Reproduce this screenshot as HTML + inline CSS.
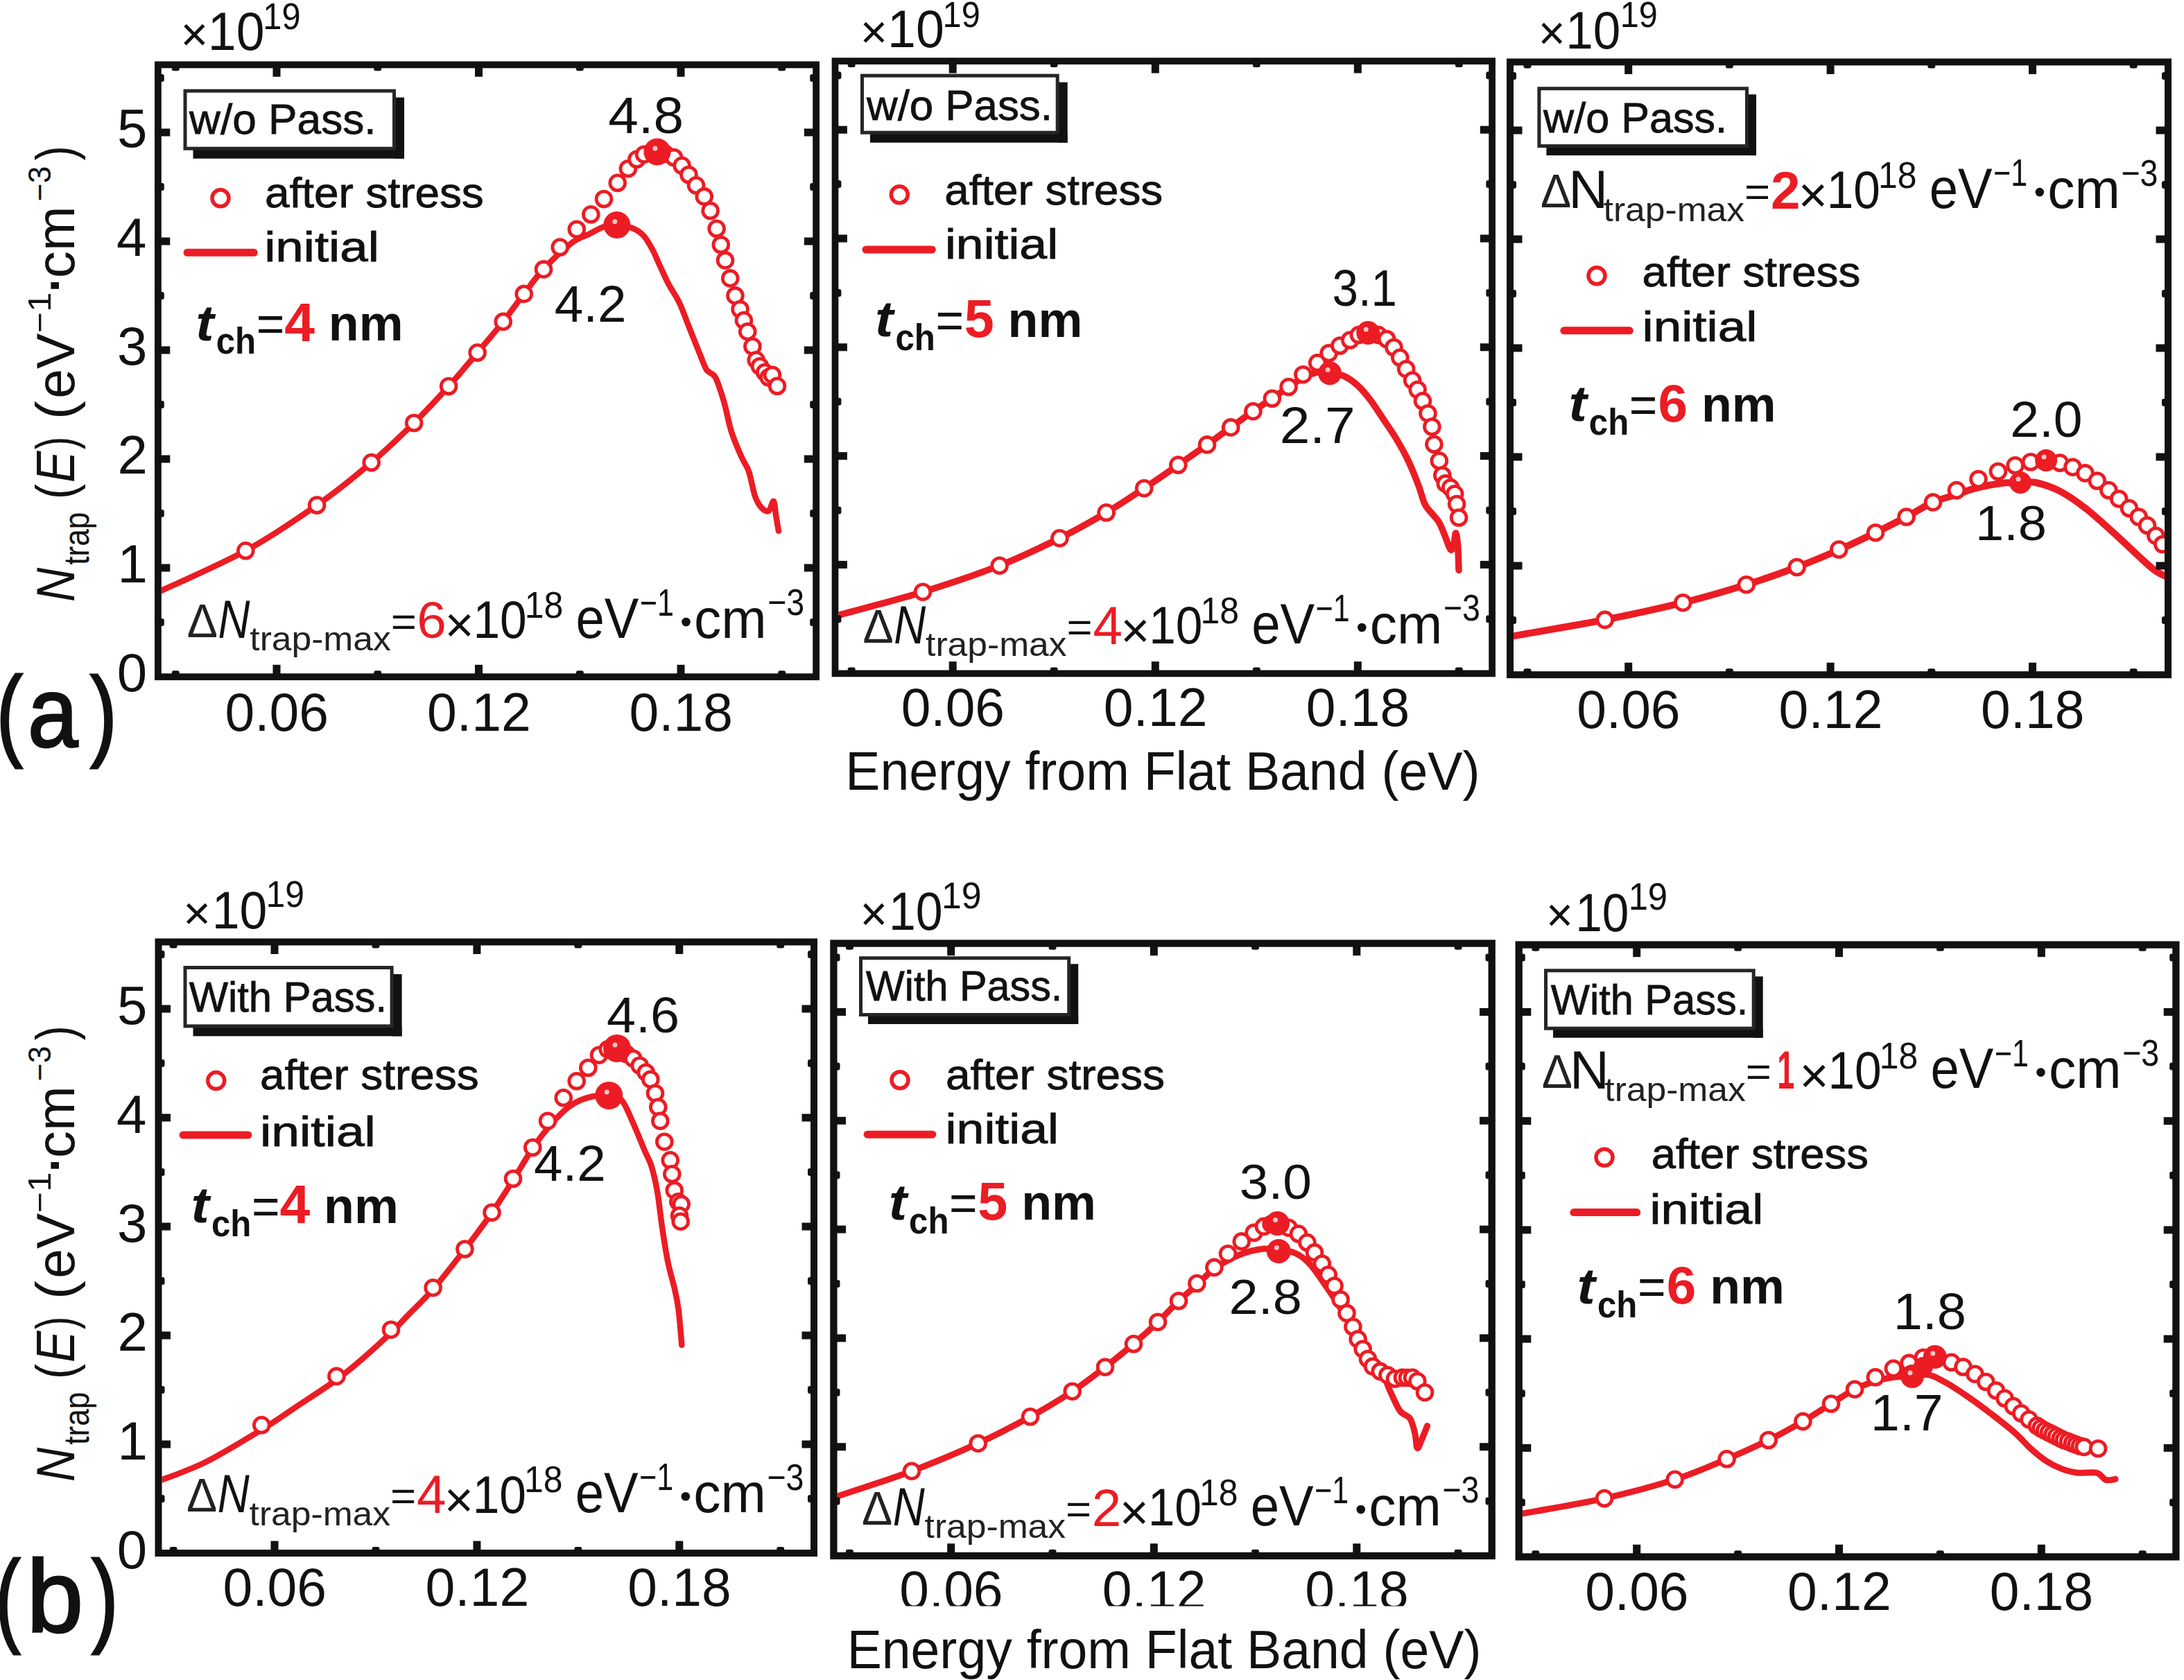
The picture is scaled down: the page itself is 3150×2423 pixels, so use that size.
<!DOCTYPE html>
<html><head><meta charset="utf-8"><style>
html,body{margin:0;padding:0;background:#fff;}
svg{display:block;}
text{font-family:"Liberation Sans",sans-serif;font-kerning:none;font-variant-ligatures:none;white-space:pre;}
</style></head><body>
<svg width="3150" height="2423" viewBox="0 0 3150 2423">
<rect width="3150" height="2423" fill="#fff"/>
<defs>
<clipPath id="clip_p1"><rect x="232.8" y="98.2" width="939.5" height="873.0"/></clipPath>
<clipPath id="clip_p2"><rect x="1209.4" y="93.0" width="937.9" height="873.6"/></clipPath>
<clipPath id="clip_p3"><rect x="2183.0" y="94.4" width="939.0" height="873.8"/></clipPath>
<clipPath id="clip_b1"><rect x="233.5" y="1363.5" width="935.5" height="871.5"/></clipPath>
<clipPath id="clip_b2"><rect x="1207.5" y="1365.7" width="939.0" height="873.0"/></clipPath>
<clipPath id="clip_b3"><rect x="2195.8" y="1367.7" width="937.4" height="872.5"/></clipPath>
</defs>
<g clip-path="url(#clip_p1)">
<path d="M226.0,855.0 C247.4,844.9 315.8,815.4 354.3,794.3 C392.8,773.2 426.9,749.8 457.1,728.6 C487.3,707.4 512.4,686.9 535.7,667.1 C559.0,647.3 578.5,628.3 597.1,610.0 C615.7,591.7 631.9,574.0 647.1,557.1 C662.4,540.2 675.5,524.1 688.6,508.6 C701.7,493.1 714.5,478.0 725.7,463.9 C736.9,449.8 746.0,436.5 755.7,423.9 C765.4,411.2 772.5,400.2 784.0,388.0 C795.5,375.8 813.6,358.8 824.6,350.4 C835.6,342.0 842.3,341.4 850.0,337.5 C857.7,333.6 864.4,329.2 871.0,327.0 C877.6,324.8 883.0,324.2 889.8,324.5 C896.6,324.8 905.6,326.5 912.0,329.0 C918.4,331.5 923.2,334.6 928.0,339.6 C932.8,344.7 936.8,352.2 940.7,359.3 C944.6,366.4 947.5,374.2 951.4,382.5 C955.3,390.8 959.2,400.2 964.0,409.3 C968.8,418.4 975.0,426.4 980.0,437.0 C985.0,447.6 989.5,461.0 994.3,472.9 C999.1,484.8 1004.4,498.5 1008.6,508.6 C1012.8,518.7 1015.4,527.7 1019.3,533.6 C1023.2,539.5 1027.6,536.6 1031.8,544.3 C1036.0,552.0 1040.4,566.9 1044.3,580.0 C1048.2,593.1 1050.8,609.8 1055.0,622.9 C1059.2,636.0 1065.1,649.1 1069.3,658.6 C1073.5,668.1 1076.7,670.5 1080.0,680.0 C1083.3,689.5 1086.0,707.1 1089.0,715.7 C1092.0,724.3 1094.6,728.2 1097.9,731.8 C1101.2,735.3 1105.6,738.5 1108.6,737.0 C1111.6,735.5 1113.9,721.7 1115.7,722.9 C1117.5,724.1 1118.1,737.2 1119.3,744.3 C1120.5,751.4 1122.3,762.1 1122.9,765.7" fill="none" stroke="#ec1c24" stroke-width="8.5" stroke-linejoin="round" stroke-linecap="round"/>
<circle cx="354.3" cy="794.3" r="10.9" fill="#fff" stroke="#ec1c24" stroke-width="4.8"/>
<circle cx="457.1" cy="728.6" r="10.9" fill="#fff" stroke="#ec1c24" stroke-width="4.8"/>
<circle cx="535.7" cy="667.1" r="10.9" fill="#fff" stroke="#ec1c24" stroke-width="4.8"/>
<circle cx="597.1" cy="610.0" r="10.9" fill="#fff" stroke="#ec1c24" stroke-width="4.8"/>
<circle cx="647.1" cy="557.1" r="10.9" fill="#fff" stroke="#ec1c24" stroke-width="4.8"/>
<circle cx="688.6" cy="508.6" r="10.9" fill="#fff" stroke="#ec1c24" stroke-width="4.8"/>
<circle cx="725.7" cy="463.9" r="10.9" fill="#fff" stroke="#ec1c24" stroke-width="4.8"/>
<circle cx="755.7" cy="423.9" r="10.9" fill="#fff" stroke="#ec1c24" stroke-width="4.8"/>
<circle cx="784.0" cy="388.4" r="10.9" fill="#fff" stroke="#ec1c24" stroke-width="4.8"/>
<circle cx="807.7" cy="356.6" r="10.9" fill="#fff" stroke="#ec1c24" stroke-width="4.8"/>
<circle cx="831.8" cy="330.7" r="10.9" fill="#fff" stroke="#ec1c24" stroke-width="4.8"/>
<circle cx="852.3" cy="309.3" r="10.9" fill="#fff" stroke="#ec1c24" stroke-width="4.8"/>
<circle cx="871.0" cy="287.0" r="10.9" fill="#fff" stroke="#ec1c24" stroke-width="4.8"/>
<circle cx="890.7" cy="263.8" r="10.9" fill="#fff" stroke="#ec1c24" stroke-width="4.8"/>
<circle cx="905.9" cy="243.2" r="10.9" fill="#fff" stroke="#ec1c24" stroke-width="4.8"/>
<circle cx="918.4" cy="229.8" r="10.9" fill="#fff" stroke="#ec1c24" stroke-width="4.8"/>
<circle cx="929.0" cy="222.7" r="10.9" fill="#fff" stroke="#ec1c24" stroke-width="4.8"/>
<circle cx="959.5" cy="221.8" r="10.9" fill="#fff" stroke="#ec1c24" stroke-width="4.8"/>
<circle cx="972.0" cy="227.0" r="10.9" fill="#fff" stroke="#ec1c24" stroke-width="4.8"/>
<circle cx="983.6" cy="238.8" r="10.9" fill="#fff" stroke="#ec1c24" stroke-width="4.8"/>
<circle cx="993.4" cy="252.0" r="10.9" fill="#fff" stroke="#ec1c24" stroke-width="4.8"/>
<circle cx="1004.0" cy="267.3" r="10.9" fill="#fff" stroke="#ec1c24" stroke-width="4.8"/>
<circle cx="1015.7" cy="283.4" r="10.9" fill="#fff" stroke="#ec1c24" stroke-width="4.8"/>
<circle cx="1024.6" cy="304.0" r="10.9" fill="#fff" stroke="#ec1c24" stroke-width="4.8"/>
<circle cx="1033.6" cy="329.8" r="10.9" fill="#fff" stroke="#ec1c24" stroke-width="4.8"/>
<circle cx="1039.8" cy="353.0" r="10.9" fill="#fff" stroke="#ec1c24" stroke-width="4.8"/>
<circle cx="1046.0" cy="375.4" r="10.9" fill="#fff" stroke="#ec1c24" stroke-width="4.8"/>
<circle cx="1053.2" cy="401.4" r="10.9" fill="#fff" stroke="#ec1c24" stroke-width="4.8"/>
<circle cx="1060.4" cy="426.4" r="10.9" fill="#fff" stroke="#ec1c24" stroke-width="4.8"/>
<circle cx="1067.5" cy="446.0" r="10.9" fill="#fff" stroke="#ec1c24" stroke-width="4.8"/>
<circle cx="1072.9" cy="462.1" r="10.9" fill="#fff" stroke="#ec1c24" stroke-width="4.8"/>
<circle cx="1078.2" cy="478.2" r="10.9" fill="#fff" stroke="#ec1c24" stroke-width="4.8"/>
<circle cx="1085.4" cy="499.6" r="10.9" fill="#fff" stroke="#ec1c24" stroke-width="4.8"/>
<circle cx="1090.7" cy="519.3" r="10.9" fill="#fff" stroke="#ec1c24" stroke-width="4.8"/>
<circle cx="1096.0" cy="528.2" r="10.9" fill="#fff" stroke="#ec1c24" stroke-width="4.8"/>
<circle cx="1103.2" cy="537.1" r="10.9" fill="#fff" stroke="#ec1c24" stroke-width="4.8"/>
<circle cx="1108.6" cy="544.3" r="10.9" fill="#fff" stroke="#ec1c24" stroke-width="4.8"/>
<circle cx="1113.9" cy="540.7" r="10.9" fill="#fff" stroke="#ec1c24" stroke-width="4.8"/>
<circle cx="1121.0" cy="556.8" r="10.9" fill="#fff" stroke="#ec1c24" stroke-width="4.8"/>
<circle cx="889.8" cy="324.5" r="19.5" fill="#ec1c24"/>
<circle cx="886.8" cy="319.5" r="3.5" fill="#f7c4c6"/>
<circle cx="947.9" cy="219.0" r="19.5" fill="#ec1c24"/>
<circle cx="944.9" cy="214.0" r="3.5" fill="#f7c4c6"/>
</g>
<g clip-path="url(#clip_p2)">
<path d="M1203.0,889.0 C1224.3,883.1 1291.2,865.9 1331.0,853.7 C1370.8,841.5 1408.8,828.6 1441.7,815.7 C1474.6,802.8 1502.8,788.9 1528.4,776.2 C1554.1,763.5 1575.3,751.3 1595.6,739.3 C1615.9,727.3 1632.9,715.7 1650.2,704.2 C1667.5,692.8 1684.2,681.1 1699.3,670.6 C1714.4,660.1 1728.3,650.4 1741.0,641.4 C1753.7,632.4 1764.1,624.4 1775.2,616.4 C1786.3,608.4 1797.5,600.1 1807.4,593.2 C1817.3,586.3 1826.3,580.6 1834.8,574.8 C1843.3,568.9 1851.2,563.1 1858.6,558.1 C1866.0,553.1 1872.5,548.6 1879.4,545.0 C1886.3,541.4 1893.8,537.8 1900.2,536.7 C1906.6,535.6 1911.5,537.2 1918.0,538.2 C1924.5,539.2 1932.0,539.4 1939.0,542.6 C1946.0,545.8 1953.4,551.5 1959.8,557.5 C1966.2,563.5 1971.6,570.4 1977.6,578.3 C1983.5,586.2 1989.5,596.1 1995.5,605.0 C2001.5,613.9 2007.3,622.0 2013.3,631.9 C2019.2,641.8 2025.8,653.2 2031.2,664.6 C2036.7,676.0 2042.0,690.0 2046.0,700.4 C2050.0,710.8 2052.0,720.7 2055.0,727.1 C2058.0,733.5 2060.4,734.5 2063.9,739.0 C2067.4,743.5 2072.3,747.9 2075.8,753.9 C2079.3,759.9 2082.1,768.3 2084.8,774.8 C2087.5,781.2 2090.2,790.6 2092.2,792.6 C2094.2,794.6 2095.5,790.7 2096.7,786.7 C2097.9,782.7 2098.6,768.8 2099.6,768.8 C2100.6,768.8 2101.9,777.8 2102.6,786.7 C2103.3,795.6 2103.8,816.5 2104.0,822.4" fill="none" stroke="#ec1c24" stroke-width="9.5" stroke-linejoin="round" stroke-linecap="round"/>
<circle cx="1331.0" cy="853.7" r="10.9" fill="#fff" stroke="#ec1c24" stroke-width="4.8"/>
<circle cx="1441.7" cy="815.7" r="10.9" fill="#fff" stroke="#ec1c24" stroke-width="4.8"/>
<circle cx="1528.4" cy="776.2" r="10.9" fill="#fff" stroke="#ec1c24" stroke-width="4.8"/>
<circle cx="1595.6" cy="739.3" r="10.9" fill="#fff" stroke="#ec1c24" stroke-width="4.8"/>
<circle cx="1650.2" cy="704.2" r="10.9" fill="#fff" stroke="#ec1c24" stroke-width="4.8"/>
<circle cx="1699.3" cy="670.6" r="10.9" fill="#fff" stroke="#ec1c24" stroke-width="4.8"/>
<circle cx="1741.0" cy="641.4" r="10.9" fill="#fff" stroke="#ec1c24" stroke-width="4.8"/>
<circle cx="1775.2" cy="616.4" r="10.9" fill="#fff" stroke="#ec1c24" stroke-width="4.8"/>
<circle cx="1807.4" cy="593.2" r="10.9" fill="#fff" stroke="#ec1c24" stroke-width="4.8"/>
<circle cx="1834.8" cy="574.8" r="10.9" fill="#fff" stroke="#ec1c24" stroke-width="4.8"/>
<circle cx="1858.6" cy="558.1" r="10.9" fill="#fff" stroke="#ec1c24" stroke-width="4.8"/>
<circle cx="1879.4" cy="540.2" r="10.9" fill="#fff" stroke="#ec1c24" stroke-width="4.8"/>
<circle cx="1900.2" cy="523.3" r="10.9" fill="#fff" stroke="#ec1c24" stroke-width="4.8"/>
<circle cx="1916.6" cy="509.3" r="10.9" fill="#fff" stroke="#ec1c24" stroke-width="4.8"/>
<circle cx="1932.4" cy="498.6" r="10.9" fill="#fff" stroke="#ec1c24" stroke-width="4.8"/>
<circle cx="1947.3" cy="490.5" r="10.9" fill="#fff" stroke="#ec1c24" stroke-width="4.8"/>
<circle cx="1959.8" cy="483.1" r="10.9" fill="#fff" stroke="#ec1c24" stroke-width="4.8"/>
<circle cx="1988.0" cy="483.1" r="10.9" fill="#fff" stroke="#ec1c24" stroke-width="4.8"/>
<circle cx="2000.0" cy="489.0" r="10.9" fill="#fff" stroke="#ec1c24" stroke-width="4.8"/>
<circle cx="2010.4" cy="501.0" r="10.9" fill="#fff" stroke="#ec1c24" stroke-width="4.8"/>
<circle cx="2019.3" cy="515.8" r="10.9" fill="#fff" stroke="#ec1c24" stroke-width="4.8"/>
<circle cx="2028.2" cy="532.2" r="10.9" fill="#fff" stroke="#ec1c24" stroke-width="4.8"/>
<circle cx="2037.1" cy="548.6" r="10.9" fill="#fff" stroke="#ec1c24" stroke-width="4.8"/>
<circle cx="2044.6" cy="562.0" r="10.9" fill="#fff" stroke="#ec1c24" stroke-width="4.8"/>
<circle cx="2052.0" cy="578.3" r="10.9" fill="#fff" stroke="#ec1c24" stroke-width="4.8"/>
<circle cx="2059.5" cy="596.2" r="10.9" fill="#fff" stroke="#ec1c24" stroke-width="4.8"/>
<circle cx="2065.4" cy="615.5" r="10.9" fill="#fff" stroke="#ec1c24" stroke-width="4.8"/>
<circle cx="2068.4" cy="640.8" r="10.9" fill="#fff" stroke="#ec1c24" stroke-width="4.8"/>
<circle cx="2075.8" cy="664.6" r="10.9" fill="#fff" stroke="#ec1c24" stroke-width="4.8"/>
<circle cx="2080.3" cy="685.5" r="10.9" fill="#fff" stroke="#ec1c24" stroke-width="4.8"/>
<circle cx="2084.8" cy="697.4" r="10.9" fill="#fff" stroke="#ec1c24" stroke-width="4.8"/>
<circle cx="2092.2" cy="703.3" r="10.9" fill="#fff" stroke="#ec1c24" stroke-width="4.8"/>
<circle cx="2098.2" cy="712.3" r="10.9" fill="#fff" stroke="#ec1c24" stroke-width="4.8"/>
<circle cx="2101.1" cy="727.1" r="10.9" fill="#fff" stroke="#ec1c24" stroke-width="4.8"/>
<circle cx="2104.1" cy="746.5" r="10.9" fill="#fff" stroke="#ec1c24" stroke-width="4.8"/>
<circle cx="1918.0" cy="538.2" r="17.0" fill="#ec1c24"/>
<circle cx="1915.0" cy="533.2" r="3.5" fill="#f7c4c6"/>
<circle cx="1973.2" cy="480.0" r="17.0" fill="#ec1c24"/>
<circle cx="1970.2" cy="475.0" r="3.5" fill="#f7c4c6"/>
</g>
<g clip-path="url(#clip_p3)">
<path d="M2176.0,918.5 C2199.1,914.4 2272.9,902.1 2314.8,893.9 C2356.7,885.7 2393.3,877.7 2427.3,869.2 C2461.3,860.8 2491.4,851.7 2518.8,843.2 C2546.2,834.7 2569.4,826.4 2591.7,818.0 C2613.9,809.6 2633.4,801.3 2652.3,793.0 C2671.2,784.7 2688.9,776.1 2705.1,768.2 C2721.3,760.3 2735.8,752.8 2749.6,745.5 C2763.4,738.2 2775.8,729.8 2788.0,724.4 C2800.2,719.0 2812.7,716.6 2822.6,713.3 C2832.5,710.0 2837.0,707.4 2847.3,704.7 C2857.6,702.0 2873.3,698.7 2884.4,697.2 C2895.5,695.8 2905.3,696.2 2914.0,696.0 C2922.7,695.8 2926.8,693.9 2936.3,696.0 C2945.8,698.1 2959.1,702.2 2971.0,708.4 C2982.9,714.6 2995.7,723.6 3008.0,733.1 C3020.3,742.6 3032.6,754.1 3045.0,765.2 C3057.4,776.3 3071.9,790.4 3082.2,799.9 C3092.5,809.4 3099.9,816.6 3107.0,822.0 C3114.1,827.4 3122.0,830.3 3125.0,832.0" fill="none" stroke="#ec1c24" stroke-width="10.0" stroke-linejoin="round" stroke-linecap="round"/>
<circle cx="2314.8" cy="893.9" r="10.9" fill="#fff" stroke="#ec1c24" stroke-width="4.8"/>
<circle cx="2427.3" cy="869.2" r="10.9" fill="#fff" stroke="#ec1c24" stroke-width="4.8"/>
<circle cx="2518.8" cy="843.2" r="10.9" fill="#fff" stroke="#ec1c24" stroke-width="4.8"/>
<circle cx="2591.7" cy="818.0" r="10.9" fill="#fff" stroke="#ec1c24" stroke-width="4.8"/>
<circle cx="2652.3" cy="792.5" r="10.9" fill="#fff" stroke="#ec1c24" stroke-width="4.8"/>
<circle cx="2705.1" cy="768.2" r="10.9" fill="#fff" stroke="#ec1c24" stroke-width="4.8"/>
<circle cx="2749.6" cy="745.5" r="10.9" fill="#fff" stroke="#ec1c24" stroke-width="4.8"/>
<circle cx="2788.0" cy="724.4" r="10.9" fill="#fff" stroke="#ec1c24" stroke-width="4.8"/>
<circle cx="2822.0" cy="707.1" r="10.9" fill="#fff" stroke="#ec1c24" stroke-width="4.8"/>
<circle cx="2853.5" cy="691.0" r="10.9" fill="#fff" stroke="#ec1c24" stroke-width="4.8"/>
<circle cx="2881.9" cy="680.0" r="10.9" fill="#fff" stroke="#ec1c24" stroke-width="4.8"/>
<circle cx="2906.6" cy="671.3" r="10.9" fill="#fff" stroke="#ec1c24" stroke-width="4.8"/>
<circle cx="2928.9" cy="666.3" r="10.9" fill="#fff" stroke="#ec1c24" stroke-width="4.8"/>
<circle cx="2971.0" cy="667.6" r="10.9" fill="#fff" stroke="#ec1c24" stroke-width="4.8"/>
<circle cx="2989.5" cy="673.7" r="10.9" fill="#fff" stroke="#ec1c24" stroke-width="4.8"/>
<circle cx="3007.5" cy="682.4" r="10.9" fill="#fff" stroke="#ec1c24" stroke-width="4.8"/>
<circle cx="3024.8" cy="693.5" r="10.9" fill="#fff" stroke="#ec1c24" stroke-width="4.8"/>
<circle cx="3041.4" cy="707.1" r="10.9" fill="#fff" stroke="#ec1c24" stroke-width="4.8"/>
<circle cx="3056.2" cy="719.5" r="10.9" fill="#fff" stroke="#ec1c24" stroke-width="4.8"/>
<circle cx="3071.0" cy="733.1" r="10.9" fill="#fff" stroke="#ec1c24" stroke-width="4.8"/>
<circle cx="3084.7" cy="745.5" r="10.9" fill="#fff" stroke="#ec1c24" stroke-width="4.8"/>
<circle cx="3097.0" cy="757.8" r="10.9" fill="#fff" stroke="#ec1c24" stroke-width="4.8"/>
<circle cx="3109.4" cy="772.7" r="10.9" fill="#fff" stroke="#ec1c24" stroke-width="4.8"/>
<circle cx="3119.3" cy="785.0" r="10.9" fill="#fff" stroke="#ec1c24" stroke-width="4.8"/>
<circle cx="2914.0" cy="696.0" r="16.0" fill="#ec1c24"/>
<circle cx="2911.0" cy="691.0" r="3.5" fill="#f7c4c6"/>
<circle cx="2951.1" cy="664.0" r="16.0" fill="#ec1c24"/>
<circle cx="2948.1" cy="659.0" r="3.5" fill="#f7c4c6"/>
</g>
<g clip-path="url(#clip_b1)">
<path d="M226.0,2137.0 C237.6,2132.4 270.3,2121.8 295.5,2109.3 C320.7,2096.8 355.5,2075.3 377.3,2062.0 C399.1,2048.7 408.5,2041.5 426.5,2029.5 C444.5,2017.5 469.0,2001.9 485.4,1990.0 C501.8,1978.1 511.6,1969.3 524.7,1958.0 C537.8,1946.7 553.1,1932.5 564.0,1922.0 C574.9,1911.5 580.1,1905.4 590.2,1895.0 C600.3,1884.6 611.2,1875.0 624.6,1859.5 C638.0,1844.0 656.2,1820.4 670.4,1802.0 C684.5,1783.6 697.9,1765.7 709.5,1749.0 C721.1,1732.3 730.2,1717.5 740.0,1702.0 C749.8,1686.5 759.4,1669.1 768.3,1656.0 C777.2,1642.9 784.7,1633.2 793.3,1623.3 C801.9,1613.4 811.1,1603.4 820.0,1596.7 C828.9,1590.0 837.0,1586.1 846.7,1583.3 C856.4,1580.5 870.0,1579.4 878.3,1580.0 C886.6,1580.6 890.9,1580.0 896.7,1586.7 C902.5,1593.4 907.8,1607.8 913.3,1620.0 C918.8,1632.2 925.5,1649.5 930.0,1660.0 C934.5,1670.5 937.0,1673.3 940.0,1683.3 C943.0,1693.3 945.8,1705.5 948.3,1720.0 C950.8,1734.5 952.5,1753.3 955.0,1770.0 C957.5,1786.7 960.2,1805.0 963.3,1820.0 C966.3,1835.0 970.8,1848.9 973.3,1860.0 C975.8,1871.1 976.9,1876.7 978.3,1886.7 C979.7,1896.7 980.9,1911.1 981.7,1920.0 C982.5,1928.9 983.0,1936.7 983.3,1940.0" fill="none" stroke="#ec1c24" stroke-width="8.5" stroke-linejoin="round" stroke-linecap="round"/>
<circle cx="377.3" cy="2055.3" r="10.9" fill="#fff" stroke="#ec1c24" stroke-width="4.8"/>
<circle cx="485.4" cy="1984.9" r="10.9" fill="#fff" stroke="#ec1c24" stroke-width="4.8"/>
<circle cx="564.0" cy="1917.7" r="10.9" fill="#fff" stroke="#ec1c24" stroke-width="4.8"/>
<circle cx="624.6" cy="1857.2" r="10.9" fill="#fff" stroke="#ec1c24" stroke-width="4.8"/>
<circle cx="670.4" cy="1801.5" r="10.9" fill="#fff" stroke="#ec1c24" stroke-width="4.8"/>
<circle cx="709.5" cy="1748.7" r="10.9" fill="#fff" stroke="#ec1c24" stroke-width="4.8"/>
<circle cx="740.0" cy="1700.0" r="10.9" fill="#fff" stroke="#ec1c24" stroke-width="4.8"/>
<circle cx="768.3" cy="1655.0" r="10.9" fill="#fff" stroke="#ec1c24" stroke-width="4.8"/>
<circle cx="790.0" cy="1616.7" r="10.9" fill="#fff" stroke="#ec1c24" stroke-width="4.8"/>
<circle cx="812.7" cy="1583.3" r="10.9" fill="#fff" stroke="#ec1c24" stroke-width="4.8"/>
<circle cx="831.7" cy="1559.3" r="10.9" fill="#fff" stroke="#ec1c24" stroke-width="4.8"/>
<circle cx="848.3" cy="1540.0" r="10.9" fill="#fff" stroke="#ec1c24" stroke-width="4.8"/>
<circle cx="864.0" cy="1521.7" r="10.9" fill="#fff" stroke="#ec1c24" stroke-width="4.8"/>
<circle cx="876.7" cy="1513.3" r="10.9" fill="#fff" stroke="#ec1c24" stroke-width="4.8"/>
<circle cx="903.3" cy="1520.0" r="10.9" fill="#fff" stroke="#ec1c24" stroke-width="4.8"/>
<circle cx="913.3" cy="1526.7" r="10.9" fill="#fff" stroke="#ec1c24" stroke-width="4.8"/>
<circle cx="922.7" cy="1536.7" r="10.9" fill="#fff" stroke="#ec1c24" stroke-width="4.8"/>
<circle cx="931.7" cy="1546.7" r="10.9" fill="#fff" stroke="#ec1c24" stroke-width="4.8"/>
<circle cx="938.3" cy="1556.7" r="10.9" fill="#fff" stroke="#ec1c24" stroke-width="4.8"/>
<circle cx="945.0" cy="1576.7" r="10.9" fill="#fff" stroke="#ec1c24" stroke-width="4.8"/>
<circle cx="949.3" cy="1596.7" r="10.9" fill="#fff" stroke="#ec1c24" stroke-width="4.8"/>
<circle cx="952.3" cy="1616.7" r="10.9" fill="#fff" stroke="#ec1c24" stroke-width="4.8"/>
<circle cx="958.3" cy="1646.7" r="10.9" fill="#fff" stroke="#ec1c24" stroke-width="4.8"/>
<circle cx="966.7" cy="1673.3" r="10.9" fill="#fff" stroke="#ec1c24" stroke-width="4.8"/>
<circle cx="969.3" cy="1693.3" r="10.9" fill="#fff" stroke="#ec1c24" stroke-width="4.8"/>
<circle cx="972.7" cy="1716.7" r="10.9" fill="#fff" stroke="#ec1c24" stroke-width="4.8"/>
<circle cx="978.3" cy="1733.3" r="10.9" fill="#fff" stroke="#ec1c24" stroke-width="4.8"/>
<circle cx="982.7" cy="1736.7" r="10.9" fill="#fff" stroke="#ec1c24" stroke-width="4.8"/>
<circle cx="980.0" cy="1753.3" r="10.9" fill="#fff" stroke="#ec1c24" stroke-width="4.8"/>
<circle cx="981.7" cy="1761.7" r="10.9" fill="#fff" stroke="#ec1c24" stroke-width="4.8"/>
<circle cx="878.3" cy="1580.0" r="20.0" fill="#ec1c24"/>
<circle cx="875.3" cy="1575.0" r="3.5" fill="#f7c4c6"/>
<circle cx="890.0" cy="1512.0" r="20.0" fill="#ec1c24"/>
<circle cx="887.0" cy="1507.0" r="3.5" fill="#f7c4c6"/>
</g>
<g clip-path="url(#clip_b2)">
<path d="M1202.0,2160.0 C1220.8,2153.6 1280.2,2134.8 1315.0,2121.7 C1349.8,2108.6 1382.2,2094.8 1410.7,2081.7 C1439.2,2068.6 1463.3,2055.8 1486.0,2043.3 C1508.7,2030.8 1528.7,2018.6 1546.7,2006.7 C1564.7,1994.8 1579.3,1983.1 1594.0,1971.7 C1608.7,1960.3 1622.3,1949.1 1635.0,1938.3 C1647.7,1927.5 1659.5,1916.8 1670.0,1906.7 C1680.5,1896.7 1688.9,1887.0 1698.3,1878.0 C1707.7,1869.0 1717.6,1861.0 1726.4,1853.0 C1735.2,1845.0 1741.3,1837.2 1751.4,1830.0 C1761.5,1822.8 1775.1,1814.8 1787.0,1810.0 C1798.9,1805.2 1813.4,1801.9 1822.9,1801.0 C1832.5,1800.1 1837.2,1803.7 1844.3,1804.6 C1851.4,1805.5 1858.6,1803.7 1865.7,1806.4 C1872.8,1809.1 1879.8,1813.6 1887.0,1820.7 C1894.2,1827.8 1901.4,1839.2 1908.6,1849.3 C1915.8,1859.4 1922.9,1870.1 1930.0,1881.4 C1937.1,1892.7 1944.2,1905.1 1951.4,1917.0 C1958.6,1928.9 1965.8,1942.2 1972.9,1952.9 C1980.1,1963.6 1989.0,1972.5 1994.3,1981.4 C1999.6,1990.3 2000.8,1997.5 2005.0,2006.4 C2009.2,2015.3 2014.5,2028.5 2019.3,2035.0 C2024.1,2041.5 2030.0,2040.4 2033.6,2045.7 C2037.2,2051.0 2038.9,2059.8 2040.7,2067.0 C2042.5,2074.2 2042.5,2087.4 2044.3,2088.6 C2046.1,2089.8 2049.0,2079.7 2051.4,2074.3 C2053.8,2068.9 2057.4,2059.4 2058.6,2056.4" fill="none" stroke="#ec1c24" stroke-width="9.0" stroke-linejoin="round" stroke-linecap="round"/>
<circle cx="1315.0" cy="2121.7" r="10.9" fill="#fff" stroke="#ec1c24" stroke-width="4.8"/>
<circle cx="1410.7" cy="2081.7" r="10.9" fill="#fff" stroke="#ec1c24" stroke-width="4.8"/>
<circle cx="1486.0" cy="2043.3" r="10.9" fill="#fff" stroke="#ec1c24" stroke-width="4.8"/>
<circle cx="1546.7" cy="2006.7" r="10.9" fill="#fff" stroke="#ec1c24" stroke-width="4.8"/>
<circle cx="1594.0" cy="1971.7" r="10.9" fill="#fff" stroke="#ec1c24" stroke-width="4.8"/>
<circle cx="1635.0" cy="1938.3" r="10.9" fill="#fff" stroke="#ec1c24" stroke-width="4.8"/>
<circle cx="1670.0" cy="1906.7" r="10.9" fill="#fff" stroke="#ec1c24" stroke-width="4.8"/>
<circle cx="1700.0" cy="1876.3" r="10.9" fill="#fff" stroke="#ec1c24" stroke-width="4.8"/>
<circle cx="1726.4" cy="1851.0" r="10.9" fill="#fff" stroke="#ec1c24" stroke-width="4.8"/>
<circle cx="1751.4" cy="1827.9" r="10.9" fill="#fff" stroke="#ec1c24" stroke-width="4.8"/>
<circle cx="1771.0" cy="1808.2" r="10.9" fill="#fff" stroke="#ec1c24" stroke-width="4.8"/>
<circle cx="1790.7" cy="1790.4" r="10.9" fill="#fff" stroke="#ec1c24" stroke-width="4.8"/>
<circle cx="1808.6" cy="1777.9" r="10.9" fill="#fff" stroke="#ec1c24" stroke-width="4.8"/>
<circle cx="1822.9" cy="1768.9" r="10.9" fill="#fff" stroke="#ec1c24" stroke-width="4.8"/>
<circle cx="1833.6" cy="1765.4" r="10.9" fill="#fff" stroke="#ec1c24" stroke-width="4.8"/>
<circle cx="1858.6" cy="1770.7" r="10.9" fill="#fff" stroke="#ec1c24" stroke-width="4.8"/>
<circle cx="1872.9" cy="1779.6" r="10.9" fill="#fff" stroke="#ec1c24" stroke-width="4.8"/>
<circle cx="1885.4" cy="1792.1" r="10.9" fill="#fff" stroke="#ec1c24" stroke-width="4.8"/>
<circle cx="1896.0" cy="1806.4" r="10.9" fill="#fff" stroke="#ec1c24" stroke-width="4.8"/>
<circle cx="1906.8" cy="1822.5" r="10.9" fill="#fff" stroke="#ec1c24" stroke-width="4.8"/>
<circle cx="1915.7" cy="1838.6" r="10.9" fill="#fff" stroke="#ec1c24" stroke-width="4.8"/>
<circle cx="1924.6" cy="1854.6" r="10.9" fill="#fff" stroke="#ec1c24" stroke-width="4.8"/>
<circle cx="1933.6" cy="1874.3" r="10.9" fill="#fff" stroke="#ec1c24" stroke-width="4.8"/>
<circle cx="1942.5" cy="1893.9" r="10.9" fill="#fff" stroke="#ec1c24" stroke-width="4.8"/>
<circle cx="1951.4" cy="1913.6" r="10.9" fill="#fff" stroke="#ec1c24" stroke-width="4.8"/>
<circle cx="1958.6" cy="1931.4" r="10.9" fill="#fff" stroke="#ec1c24" stroke-width="4.8"/>
<circle cx="1965.7" cy="1945.7" r="10.9" fill="#fff" stroke="#ec1c24" stroke-width="4.8"/>
<circle cx="1972.9" cy="1960.0" r="10.9" fill="#fff" stroke="#ec1c24" stroke-width="4.8"/>
<circle cx="1980.0" cy="1970.7" r="10.9" fill="#fff" stroke="#ec1c24" stroke-width="4.8"/>
<circle cx="1990.7" cy="1977.9" r="10.9" fill="#fff" stroke="#ec1c24" stroke-width="4.8"/>
<circle cx="2001.4" cy="1983.2" r="10.9" fill="#fff" stroke="#ec1c24" stroke-width="4.8"/>
<circle cx="2012.0" cy="1988.6" r="10.9" fill="#fff" stroke="#ec1c24" stroke-width="4.8"/>
<circle cx="2022.9" cy="1986.8" r="10.9" fill="#fff" stroke="#ec1c24" stroke-width="4.8"/>
<circle cx="2030.0" cy="1987.0" r="10.9" fill="#fff" stroke="#ec1c24" stroke-width="4.8"/>
<circle cx="2037.0" cy="1986.8" r="10.9" fill="#fff" stroke="#ec1c24" stroke-width="4.8"/>
<circle cx="2044.3" cy="1992.0" r="10.9" fill="#fff" stroke="#ec1c24" stroke-width="4.8"/>
<circle cx="2055.0" cy="2008.2" r="10.9" fill="#fff" stroke="#ec1c24" stroke-width="4.8"/>
<circle cx="1844.3" cy="1804.6" r="17.5" fill="#ec1c24"/>
<circle cx="1841.3" cy="1799.6" r="3.5" fill="#f7c4c6"/>
<circle cx="1842.5" cy="1764.5" r="17.5" fill="#ec1c24"/>
<circle cx="1839.5" cy="1759.5" r="3.5" fill="#f7c4c6"/>
</g>
<g clip-path="url(#clip_b3)">
<path d="M2190.0,2184.0 C2210.7,2180.2 2276.4,2169.5 2314.0,2161.1 C2351.6,2152.7 2386.3,2143.3 2415.7,2133.8 C2445.1,2124.3 2468.1,2113.8 2490.6,2104.3 C2513.1,2094.8 2532.4,2086.0 2550.7,2077.0 C2569.0,2068.0 2585.3,2058.8 2600.4,2050.1 C2615.5,2041.3 2628.6,2032.2 2641.0,2024.5 C2653.4,2016.8 2664.4,2009.1 2675.1,2003.7 C2685.8,1998.3 2695.6,1994.9 2704.9,1992.0 C2714.2,1989.1 2722.2,1987.5 2731.0,1986.3 C2739.8,1985.1 2749.5,1985.7 2758.0,1985.1 C2766.5,1984.5 2773.7,1981.4 2781.8,1982.9 C2789.9,1984.4 2797.3,1988.9 2806.7,1994.2 C2816.1,1999.5 2827.4,2007.0 2838.3,2014.5 C2849.2,2022.0 2861.0,2030.7 2872.3,2039.4 C2883.6,2048.1 2896.8,2058.3 2906.2,2066.6 C2915.6,2074.9 2921.3,2082.4 2928.8,2089.2 C2936.3,2096.0 2943.9,2102.4 2951.4,2107.3 C2958.9,2112.2 2966.4,2115.8 2974.0,2118.6 C2981.6,2121.4 2988.4,2123.3 2996.7,2124.2 C3005.0,2125.1 3017.0,2122.5 3023.8,2124.2 C3030.6,2125.9 3032.9,2132.9 3037.4,2134.4 C3041.9,2135.9 3048.7,2133.5 3051.0,2133.3" fill="none" stroke="#ec1c24" stroke-width="9.0" stroke-linejoin="round" stroke-linecap="round"/>
<circle cx="2314.0" cy="2161.1" r="10.9" fill="#fff" stroke="#ec1c24" stroke-width="4.8"/>
<circle cx="2415.7" cy="2133.8" r="10.9" fill="#fff" stroke="#ec1c24" stroke-width="4.8"/>
<circle cx="2490.6" cy="2104.3" r="10.9" fill="#fff" stroke="#ec1c24" stroke-width="4.8"/>
<circle cx="2550.7" cy="2077.0" r="10.9" fill="#fff" stroke="#ec1c24" stroke-width="4.8"/>
<circle cx="2600.4" cy="2050.1" r="10.9" fill="#fff" stroke="#ec1c24" stroke-width="4.8"/>
<circle cx="2641.0" cy="2024.5" r="10.9" fill="#fff" stroke="#ec1c24" stroke-width="4.8"/>
<circle cx="2675.1" cy="2003.7" r="10.9" fill="#fff" stroke="#ec1c24" stroke-width="4.8"/>
<circle cx="2704.9" cy="1986.3" r="10.9" fill="#fff" stroke="#ec1c24" stroke-width="4.8"/>
<circle cx="2730.9" cy="1973.8" r="10.9" fill="#fff" stroke="#ec1c24" stroke-width="4.8"/>
<circle cx="2753.5" cy="1965.9" r="10.9" fill="#fff" stroke="#ec1c24" stroke-width="4.8"/>
<circle cx="2773.9" cy="1958.0" r="10.9" fill="#fff" stroke="#ec1c24" stroke-width="4.8"/>
<circle cx="2814.6" cy="1964.8" r="10.9" fill="#fff" stroke="#ec1c24" stroke-width="4.8"/>
<circle cx="2831.5" cy="1971.5" r="10.9" fill="#fff" stroke="#ec1c24" stroke-width="4.8"/>
<circle cx="2848.5" cy="1981.7" r="10.9" fill="#fff" stroke="#ec1c24" stroke-width="4.8"/>
<circle cx="2864.3" cy="1993.0" r="10.9" fill="#fff" stroke="#ec1c24" stroke-width="4.8"/>
<circle cx="2879.0" cy="2005.5" r="10.9" fill="#fff" stroke="#ec1c24" stroke-width="4.8"/>
<circle cx="2891.5" cy="2016.8" r="10.9" fill="#fff" stroke="#ec1c24" stroke-width="4.8"/>
<circle cx="2903.9" cy="2028.1" r="10.9" fill="#fff" stroke="#ec1c24" stroke-width="4.8"/>
<circle cx="2915.2" cy="2038.3" r="10.9" fill="#fff" stroke="#ec1c24" stroke-width="4.8"/>
<circle cx="2926.5" cy="2047.3" r="10.9" fill="#fff" stroke="#ec1c24" stroke-width="4.8"/>
<circle cx="2937.9" cy="2056.4" r="10.9" fill="#fff" stroke="#ec1c24" stroke-width="4.8"/>
<circle cx="2943.5" cy="2060.0" r="10.9" fill="#fff" stroke="#ec1c24" stroke-width="4.8"/>
<circle cx="2949.2" cy="2063.2" r="10.9" fill="#fff" stroke="#ec1c24" stroke-width="4.8"/>
<circle cx="2955.0" cy="2066.0" r="10.9" fill="#fff" stroke="#ec1c24" stroke-width="4.8"/>
<circle cx="2960.5" cy="2068.8" r="10.9" fill="#fff" stroke="#ec1c24" stroke-width="4.8"/>
<circle cx="2966.0" cy="2071.5" r="10.9" fill="#fff" stroke="#ec1c24" stroke-width="4.8"/>
<circle cx="2971.8" cy="2074.5" r="10.9" fill="#fff" stroke="#ec1c24" stroke-width="4.8"/>
<circle cx="2977.0" cy="2077.0" r="10.9" fill="#fff" stroke="#ec1c24" stroke-width="4.8"/>
<circle cx="2983.1" cy="2079.0" r="10.9" fill="#fff" stroke="#ec1c24" stroke-width="4.8"/>
<circle cx="2989.0" cy="2081.5" r="10.9" fill="#fff" stroke="#ec1c24" stroke-width="4.8"/>
<circle cx="2994.4" cy="2083.5" r="10.9" fill="#fff" stroke="#ec1c24" stroke-width="4.8"/>
<circle cx="3000.0" cy="2085.5" r="10.9" fill="#fff" stroke="#ec1c24" stroke-width="4.8"/>
<circle cx="3005.7" cy="2086.9" r="10.9" fill="#fff" stroke="#ec1c24" stroke-width="4.8"/>
<circle cx="3026.1" cy="2089.2" r="10.9" fill="#fff" stroke="#ec1c24" stroke-width="4.8"/>
<circle cx="2758.0" cy="1985.1" r="17.0" fill="#ec1c24"/>
<circle cx="2755.0" cy="1980.1" r="3.5" fill="#f7c4c6"/>
<circle cx="2790.8" cy="1957.0" r="17.0" fill="#ec1c24"/>
<circle cx="2787.8" cy="1952.0" r="3.5" fill="#f7c4c6"/>
</g>
<circle cx="2774" cy="1971" r="14" fill="#ec1c24"/>
<rect x="227.9" y="93.4" width="949.2" height="882.8" fill="none" stroke="#111111" stroke-width="9.8"/>
<rect x="247.8" y="96.2" width="11.0" height="6.0" rx="3" fill="#111111"/>
<rect x="247.8" y="967.2" width="11.0" height="6.0" rx="3" fill="#111111"/>
<rect x="393.5" y="96.2" width="11.0" height="14.5" rx="0" fill="#111111"/>
<rect x="393.5" y="958.8" width="11.0" height="14.5" rx="0" fill="#111111"/>
<rect x="539.2" y="96.2" width="11.0" height="6.0" rx="3" fill="#111111"/>
<rect x="539.2" y="967.2" width="11.0" height="6.0" rx="3" fill="#111111"/>
<rect x="685.0" y="96.2" width="11.0" height="14.5" rx="0" fill="#111111"/>
<rect x="685.0" y="958.8" width="11.0" height="14.5" rx="0" fill="#111111"/>
<rect x="830.8" y="96.2" width="11.0" height="6.0" rx="3" fill="#111111"/>
<rect x="830.8" y="967.2" width="11.0" height="6.0" rx="3" fill="#111111"/>
<rect x="976.5" y="96.2" width="11.0" height="14.5" rx="0" fill="#111111"/>
<rect x="976.5" y="958.8" width="11.0" height="14.5" rx="0" fill="#111111"/>
<rect x="1122.2" y="96.2" width="11.0" height="6.0" rx="3" fill="#111111"/>
<rect x="1122.2" y="967.2" width="11.0" height="6.0" rx="3" fill="#111111"/>
<rect x="230.8" y="892.0" width="6.0" height="11.0" rx="3" fill="#111111"/>
<rect x="1168.2" y="892.0" width="6.0" height="11.0" rx="3" fill="#111111"/>
<rect x="230.8" y="813.5" width="14.5" height="11.0" rx="0" fill="#111111"/>
<rect x="1159.8" y="813.5" width="14.5" height="11.0" rx="0" fill="#111111"/>
<rect x="230.8" y="735.0" width="6.0" height="11.0" rx="3" fill="#111111"/>
<rect x="1168.2" y="735.0" width="6.0" height="11.0" rx="3" fill="#111111"/>
<rect x="230.8" y="656.5" width="14.5" height="11.0" rx="0" fill="#111111"/>
<rect x="1159.8" y="656.5" width="14.5" height="11.0" rx="0" fill="#111111"/>
<rect x="230.8" y="578.0" width="6.0" height="11.0" rx="3" fill="#111111"/>
<rect x="1168.2" y="578.0" width="6.0" height="11.0" rx="3" fill="#111111"/>
<rect x="230.8" y="499.5" width="14.5" height="11.0" rx="0" fill="#111111"/>
<rect x="1159.8" y="499.5" width="14.5" height="11.0" rx="0" fill="#111111"/>
<rect x="230.8" y="421.0" width="6.0" height="11.0" rx="3" fill="#111111"/>
<rect x="1168.2" y="421.0" width="6.0" height="11.0" rx="3" fill="#111111"/>
<rect x="230.8" y="342.5" width="14.5" height="11.0" rx="0" fill="#111111"/>
<rect x="1159.8" y="342.5" width="14.5" height="11.0" rx="0" fill="#111111"/>
<rect x="230.8" y="264.0" width="6.0" height="11.0" rx="3" fill="#111111"/>
<rect x="1168.2" y="264.0" width="6.0" height="11.0" rx="3" fill="#111111"/>
<rect x="230.8" y="185.5" width="14.5" height="11.0" rx="0" fill="#111111"/>
<rect x="1159.8" y="185.5" width="14.5" height="11.0" rx="0" fill="#111111"/>
<rect x="230.8" y="107.0" width="6.0" height="11.0" rx="3" fill="#111111"/>
<rect x="1168.2" y="107.0" width="6.0" height="11.0" rx="3" fill="#111111"/>
<rect x="1204.5" y="88.1" width="947.6" height="883.3" fill="none" stroke="#111111" stroke-width="9.7"/>
<rect x="1222.7" y="91.0" width="11.0" height="6.0" rx="3" fill="#111111"/>
<rect x="1222.7" y="962.6" width="11.0" height="6.0" rx="3" fill="#111111"/>
<rect x="1368.7" y="91.0" width="11.0" height="14.5" rx="0" fill="#111111"/>
<rect x="1368.7" y="954.1" width="11.0" height="14.5" rx="0" fill="#111111"/>
<rect x="1514.7" y="91.0" width="11.0" height="6.0" rx="3" fill="#111111"/>
<rect x="1514.7" y="962.6" width="11.0" height="6.0" rx="3" fill="#111111"/>
<rect x="1660.8" y="91.0" width="11.0" height="14.5" rx="0" fill="#111111"/>
<rect x="1660.8" y="954.1" width="11.0" height="14.5" rx="0" fill="#111111"/>
<rect x="1806.8" y="91.0" width="11.0" height="6.0" rx="3" fill="#111111"/>
<rect x="1806.8" y="962.6" width="11.0" height="6.0" rx="3" fill="#111111"/>
<rect x="1952.8" y="91.0" width="11.0" height="14.5" rx="0" fill="#111111"/>
<rect x="1952.8" y="954.1" width="11.0" height="14.5" rx="0" fill="#111111"/>
<rect x="2098.8" y="91.0" width="11.0" height="6.0" rx="3" fill="#111111"/>
<rect x="2098.8" y="962.6" width="11.0" height="6.0" rx="3" fill="#111111"/>
<rect x="1207.4" y="887.3" width="6.0" height="11.0" rx="3" fill="#111111"/>
<rect x="2143.3" y="887.3" width="6.0" height="11.0" rx="3" fill="#111111"/>
<rect x="1207.4" y="808.9" width="14.5" height="11.0" rx="0" fill="#111111"/>
<rect x="2134.8" y="808.9" width="14.5" height="11.0" rx="0" fill="#111111"/>
<rect x="1207.4" y="730.5" width="6.0" height="11.0" rx="3" fill="#111111"/>
<rect x="2143.3" y="730.5" width="6.0" height="11.0" rx="3" fill="#111111"/>
<rect x="1207.4" y="652.1" width="14.5" height="11.0" rx="0" fill="#111111"/>
<rect x="2134.8" y="652.1" width="14.5" height="11.0" rx="0" fill="#111111"/>
<rect x="1207.4" y="573.7" width="6.0" height="11.0" rx="3" fill="#111111"/>
<rect x="2143.3" y="573.7" width="6.0" height="11.0" rx="3" fill="#111111"/>
<rect x="1207.4" y="495.3" width="14.5" height="11.0" rx="0" fill="#111111"/>
<rect x="2134.8" y="495.3" width="14.5" height="11.0" rx="0" fill="#111111"/>
<rect x="1207.4" y="416.9" width="6.0" height="11.0" rx="3" fill="#111111"/>
<rect x="2143.3" y="416.9" width="6.0" height="11.0" rx="3" fill="#111111"/>
<rect x="1207.4" y="338.5" width="14.5" height="11.0" rx="0" fill="#111111"/>
<rect x="2134.8" y="338.5" width="14.5" height="11.0" rx="0" fill="#111111"/>
<rect x="1207.4" y="260.1" width="6.0" height="11.0" rx="3" fill="#111111"/>
<rect x="2143.3" y="260.1" width="6.0" height="11.0" rx="3" fill="#111111"/>
<rect x="1207.4" y="181.7" width="14.5" height="11.0" rx="0" fill="#111111"/>
<rect x="2134.8" y="181.7" width="14.5" height="11.0" rx="0" fill="#111111"/>
<rect x="1207.4" y="103.3" width="6.0" height="11.0" rx="3" fill="#111111"/>
<rect x="2143.3" y="103.3" width="6.0" height="11.0" rx="3" fill="#111111"/>
<rect x="2178.0" y="89.4" width="949.0" height="883.8" fill="none" stroke="#111111" stroke-width="10.0"/>
<rect x="2197.5" y="92.4" width="11.0" height="6.0" rx="3" fill="#111111"/>
<rect x="2197.5" y="964.2" width="11.0" height="6.0" rx="3" fill="#111111"/>
<rect x="2343.2" y="92.4" width="11.0" height="14.5" rx="0" fill="#111111"/>
<rect x="2343.2" y="955.7" width="11.0" height="14.5" rx="0" fill="#111111"/>
<rect x="2488.9" y="92.4" width="11.0" height="6.0" rx="3" fill="#111111"/>
<rect x="2488.9" y="964.2" width="11.0" height="6.0" rx="3" fill="#111111"/>
<rect x="2634.6" y="92.4" width="11.0" height="14.5" rx="0" fill="#111111"/>
<rect x="2634.6" y="955.7" width="11.0" height="14.5" rx="0" fill="#111111"/>
<rect x="2780.3" y="92.4" width="11.0" height="6.0" rx="3" fill="#111111"/>
<rect x="2780.3" y="964.2" width="11.0" height="6.0" rx="3" fill="#111111"/>
<rect x="2926.0" y="92.4" width="11.0" height="14.5" rx="0" fill="#111111"/>
<rect x="2926.0" y="955.7" width="11.0" height="14.5" rx="0" fill="#111111"/>
<rect x="3071.7" y="92.4" width="11.0" height="6.0" rx="3" fill="#111111"/>
<rect x="3071.7" y="964.2" width="11.0" height="6.0" rx="3" fill="#111111"/>
<rect x="2181.0" y="889.0" width="6.0" height="11.0" rx="3" fill="#111111"/>
<rect x="3118.0" y="889.0" width="6.0" height="11.0" rx="3" fill="#111111"/>
<rect x="2181.0" y="810.5" width="14.5" height="11.0" rx="0" fill="#111111"/>
<rect x="3109.5" y="810.5" width="14.5" height="11.0" rx="0" fill="#111111"/>
<rect x="2181.0" y="732.0" width="6.0" height="11.0" rx="3" fill="#111111"/>
<rect x="3118.0" y="732.0" width="6.0" height="11.0" rx="3" fill="#111111"/>
<rect x="2181.0" y="653.5" width="14.5" height="11.0" rx="0" fill="#111111"/>
<rect x="3109.5" y="653.5" width="14.5" height="11.0" rx="0" fill="#111111"/>
<rect x="2181.0" y="575.0" width="6.0" height="11.0" rx="3" fill="#111111"/>
<rect x="3118.0" y="575.0" width="6.0" height="11.0" rx="3" fill="#111111"/>
<rect x="2181.0" y="496.5" width="14.5" height="11.0" rx="0" fill="#111111"/>
<rect x="3109.5" y="496.5" width="14.5" height="11.0" rx="0" fill="#111111"/>
<rect x="2181.0" y="418.0" width="6.0" height="11.0" rx="3" fill="#111111"/>
<rect x="3118.0" y="418.0" width="6.0" height="11.0" rx="3" fill="#111111"/>
<rect x="2181.0" y="339.5" width="14.5" height="11.0" rx="0" fill="#111111"/>
<rect x="3109.5" y="339.5" width="14.5" height="11.0" rx="0" fill="#111111"/>
<rect x="2181.0" y="261.0" width="6.0" height="11.0" rx="3" fill="#111111"/>
<rect x="3118.0" y="261.0" width="6.0" height="11.0" rx="3" fill="#111111"/>
<rect x="2181.0" y="182.5" width="14.5" height="11.0" rx="0" fill="#111111"/>
<rect x="3109.5" y="182.5" width="14.5" height="11.0" rx="0" fill="#111111"/>
<rect x="2181.0" y="104.0" width="6.0" height="11.0" rx="3" fill="#111111"/>
<rect x="3118.0" y="104.0" width="6.0" height="11.0" rx="3" fill="#111111"/>
<rect x="228.5" y="1358.5" width="945.5" height="881.5" fill="none" stroke="#111111" stroke-width="10.0"/>
<rect x="244.6" y="1361.5" width="11.0" height="6.0" rx="3" fill="#111111"/>
<rect x="244.6" y="2231.0" width="11.0" height="6.0" rx="3" fill="#111111"/>
<rect x="390.5" y="1361.5" width="11.0" height="14.5" rx="0" fill="#111111"/>
<rect x="390.5" y="2222.5" width="11.0" height="14.5" rx="0" fill="#111111"/>
<rect x="536.5" y="1361.5" width="11.0" height="6.0" rx="3" fill="#111111"/>
<rect x="536.5" y="2231.0" width="11.0" height="6.0" rx="3" fill="#111111"/>
<rect x="682.4" y="1361.5" width="11.0" height="14.5" rx="0" fill="#111111"/>
<rect x="682.4" y="2222.5" width="11.0" height="14.5" rx="0" fill="#111111"/>
<rect x="828.3" y="1361.5" width="11.0" height="6.0" rx="3" fill="#111111"/>
<rect x="828.3" y="2231.0" width="11.0" height="6.0" rx="3" fill="#111111"/>
<rect x="974.3" y="1361.5" width="11.0" height="14.5" rx="0" fill="#111111"/>
<rect x="974.3" y="2222.5" width="11.0" height="14.5" rx="0" fill="#111111"/>
<rect x="1120.2" y="1361.5" width="11.0" height="6.0" rx="3" fill="#111111"/>
<rect x="1120.2" y="2231.0" width="11.0" height="6.0" rx="3" fill="#111111"/>
<rect x="231.5" y="2156.0" width="6.0" height="11.0" rx="3" fill="#111111"/>
<rect x="1165.0" y="2156.0" width="6.0" height="11.0" rx="3" fill="#111111"/>
<rect x="231.5" y="2077.5" width="14.5" height="11.0" rx="0" fill="#111111"/>
<rect x="1156.5" y="2077.5" width="14.5" height="11.0" rx="0" fill="#111111"/>
<rect x="231.5" y="1999.0" width="6.0" height="11.0" rx="3" fill="#111111"/>
<rect x="1165.0" y="1999.0" width="6.0" height="11.0" rx="3" fill="#111111"/>
<rect x="231.5" y="1920.5" width="14.5" height="11.0" rx="0" fill="#111111"/>
<rect x="1156.5" y="1920.5" width="14.5" height="11.0" rx="0" fill="#111111"/>
<rect x="231.5" y="1842.0" width="6.0" height="11.0" rx="3" fill="#111111"/>
<rect x="1165.0" y="1842.0" width="6.0" height="11.0" rx="3" fill="#111111"/>
<rect x="231.5" y="1763.5" width="14.5" height="11.0" rx="0" fill="#111111"/>
<rect x="1156.5" y="1763.5" width="14.5" height="11.0" rx="0" fill="#111111"/>
<rect x="231.5" y="1685.0" width="6.0" height="11.0" rx="3" fill="#111111"/>
<rect x="1165.0" y="1685.0" width="6.0" height="11.0" rx="3" fill="#111111"/>
<rect x="231.5" y="1606.5" width="14.5" height="11.0" rx="0" fill="#111111"/>
<rect x="1156.5" y="1606.5" width="14.5" height="11.0" rx="0" fill="#111111"/>
<rect x="231.5" y="1528.0" width="6.0" height="11.0" rx="3" fill="#111111"/>
<rect x="1165.0" y="1528.0" width="6.0" height="11.0" rx="3" fill="#111111"/>
<rect x="231.5" y="1449.5" width="14.5" height="11.0" rx="0" fill="#111111"/>
<rect x="1156.5" y="1449.5" width="14.5" height="11.0" rx="0" fill="#111111"/>
<rect x="231.5" y="1371.0" width="6.0" height="11.0" rx="3" fill="#111111"/>
<rect x="1165.0" y="1371.0" width="6.0" height="11.0" rx="3" fill="#111111"/>
<rect x="1202.4" y="1360.6" width="949.3" height="883.3" fill="none" stroke="#111111" stroke-width="10.3"/>
<rect x="1219.9" y="1363.7" width="11.0" height="6.0" rx="3" fill="#111111"/>
<rect x="1219.9" y="2234.7" width="11.0" height="6.0" rx="3" fill="#111111"/>
<rect x="1366.2" y="1363.7" width="11.0" height="14.5" rx="0" fill="#111111"/>
<rect x="1366.2" y="2226.2" width="11.0" height="14.5" rx="0" fill="#111111"/>
<rect x="1512.5" y="1363.7" width="11.0" height="6.0" rx="3" fill="#111111"/>
<rect x="1512.5" y="2234.7" width="11.0" height="6.0" rx="3" fill="#111111"/>
<rect x="1658.8" y="1363.7" width="11.0" height="14.5" rx="0" fill="#111111"/>
<rect x="1658.8" y="2226.2" width="11.0" height="14.5" rx="0" fill="#111111"/>
<rect x="1805.0" y="1363.7" width="11.0" height="6.0" rx="3" fill="#111111"/>
<rect x="1805.0" y="2234.7" width="11.0" height="6.0" rx="3" fill="#111111"/>
<rect x="1951.3" y="1363.7" width="11.0" height="14.5" rx="0" fill="#111111"/>
<rect x="1951.3" y="2226.2" width="11.0" height="14.5" rx="0" fill="#111111"/>
<rect x="2097.6" y="1363.7" width="11.0" height="6.0" rx="3" fill="#111111"/>
<rect x="2097.6" y="2234.7" width="11.0" height="6.0" rx="3" fill="#111111"/>
<rect x="1205.5" y="2159.6" width="6.0" height="11.0" rx="3" fill="#111111"/>
<rect x="2142.5" y="2159.6" width="6.0" height="11.0" rx="3" fill="#111111"/>
<rect x="1205.5" y="2081.2" width="14.5" height="11.0" rx="0" fill="#111111"/>
<rect x="2134.0" y="2081.2" width="14.5" height="11.0" rx="0" fill="#111111"/>
<rect x="1205.5" y="2002.8" width="6.0" height="11.0" rx="3" fill="#111111"/>
<rect x="2142.5" y="2002.8" width="6.0" height="11.0" rx="3" fill="#111111"/>
<rect x="1205.5" y="1924.4" width="14.5" height="11.0" rx="0" fill="#111111"/>
<rect x="2134.0" y="1924.4" width="14.5" height="11.0" rx="0" fill="#111111"/>
<rect x="1205.5" y="1846.0" width="6.0" height="11.0" rx="3" fill="#111111"/>
<rect x="2142.5" y="1846.0" width="6.0" height="11.0" rx="3" fill="#111111"/>
<rect x="1205.5" y="1767.6" width="14.5" height="11.0" rx="0" fill="#111111"/>
<rect x="2134.0" y="1767.6" width="14.5" height="11.0" rx="0" fill="#111111"/>
<rect x="1205.5" y="1689.2" width="6.0" height="11.0" rx="3" fill="#111111"/>
<rect x="2142.5" y="1689.2" width="6.0" height="11.0" rx="3" fill="#111111"/>
<rect x="1205.5" y="1610.8" width="14.5" height="11.0" rx="0" fill="#111111"/>
<rect x="2134.0" y="1610.8" width="14.5" height="11.0" rx="0" fill="#111111"/>
<rect x="1205.5" y="1532.4" width="6.0" height="11.0" rx="3" fill="#111111"/>
<rect x="2142.5" y="1532.4" width="6.0" height="11.0" rx="3" fill="#111111"/>
<rect x="1205.5" y="1454.0" width="14.5" height="11.0" rx="0" fill="#111111"/>
<rect x="2134.0" y="1454.0" width="14.5" height="11.0" rx="0" fill="#111111"/>
<rect x="1205.5" y="1375.6" width="6.0" height="11.0" rx="3" fill="#111111"/>
<rect x="2142.5" y="1375.6" width="6.0" height="11.0" rx="3" fill="#111111"/>
<rect x="2190.7" y="1362.6" width="947.7" height="882.8" fill="none" stroke="#111111" stroke-width="10.3"/>
<rect x="2209.3" y="1365.7" width="11.0" height="6.0" rx="3" fill="#111111"/>
<rect x="2209.3" y="2236.2" width="11.0" height="6.0" rx="3" fill="#111111"/>
<rect x="2355.2" y="1365.7" width="11.0" height="14.5" rx="0" fill="#111111"/>
<rect x="2355.2" y="2227.7" width="11.0" height="14.5" rx="0" fill="#111111"/>
<rect x="2501.1" y="1365.7" width="11.0" height="6.0" rx="3" fill="#111111"/>
<rect x="2501.1" y="2236.2" width="11.0" height="6.0" rx="3" fill="#111111"/>
<rect x="2647.0" y="1365.7" width="11.0" height="14.5" rx="0" fill="#111111"/>
<rect x="2647.0" y="2227.7" width="11.0" height="14.5" rx="0" fill="#111111"/>
<rect x="2792.9" y="1365.7" width="11.0" height="6.0" rx="3" fill="#111111"/>
<rect x="2792.9" y="2236.2" width="11.0" height="6.0" rx="3" fill="#111111"/>
<rect x="2938.8" y="1365.7" width="11.0" height="14.5" rx="0" fill="#111111"/>
<rect x="2938.8" y="2227.7" width="11.0" height="14.5" rx="0" fill="#111111"/>
<rect x="3084.7" y="1365.7" width="11.0" height="6.0" rx="3" fill="#111111"/>
<rect x="3084.7" y="2236.2" width="11.0" height="6.0" rx="3" fill="#111111"/>
<rect x="2193.8" y="2161.4" width="6.0" height="11.0" rx="3" fill="#111111"/>
<rect x="3129.2" y="2161.4" width="6.0" height="11.0" rx="3" fill="#111111"/>
<rect x="2193.8" y="2082.8" width="14.5" height="11.0" rx="0" fill="#111111"/>
<rect x="3120.7" y="2082.8" width="14.5" height="11.0" rx="0" fill="#111111"/>
<rect x="2193.8" y="2004.2" width="6.0" height="11.0" rx="3" fill="#111111"/>
<rect x="3129.2" y="2004.2" width="6.0" height="11.0" rx="3" fill="#111111"/>
<rect x="2193.8" y="1925.6" width="14.5" height="11.0" rx="0" fill="#111111"/>
<rect x="3120.7" y="1925.6" width="14.5" height="11.0" rx="0" fill="#111111"/>
<rect x="2193.8" y="1847.0" width="6.0" height="11.0" rx="3" fill="#111111"/>
<rect x="3129.2" y="1847.0" width="6.0" height="11.0" rx="3" fill="#111111"/>
<rect x="2193.8" y="1768.4" width="14.5" height="11.0" rx="0" fill="#111111"/>
<rect x="3120.7" y="1768.4" width="14.5" height="11.0" rx="0" fill="#111111"/>
<rect x="2193.8" y="1689.8" width="6.0" height="11.0" rx="3" fill="#111111"/>
<rect x="3129.2" y="1689.8" width="6.0" height="11.0" rx="3" fill="#111111"/>
<rect x="2193.8" y="1611.2" width="14.5" height="11.0" rx="0" fill="#111111"/>
<rect x="3120.7" y="1611.2" width="14.5" height="11.0" rx="0" fill="#111111"/>
<rect x="2193.8" y="1532.6" width="6.0" height="11.0" rx="3" fill="#111111"/>
<rect x="3129.2" y="1532.6" width="6.0" height="11.0" rx="3" fill="#111111"/>
<rect x="2193.8" y="1454.0" width="14.5" height="11.0" rx="0" fill="#111111"/>
<rect x="3120.7" y="1454.0" width="14.5" height="11.0" rx="0" fill="#111111"/>
<rect x="2193.8" y="1375.4" width="6.0" height="11.0" rx="3" fill="#111111"/>
<rect x="3129.2" y="1375.4" width="6.0" height="11.0" rx="3" fill="#111111"/>
<text x="168.67" y="996.50" font-size="78.0" fill="#111111">0</text>
<text x="169.43" y="839.50" font-size="78.0" fill="#111111">1</text>
<text x="169.54" y="682.50" font-size="78.0" fill="#111111">2</text>
<text x="169.05" y="525.50" font-size="78.0" fill="#111111">3</text>
<text x="167.91" y="368.50" font-size="78.0" fill="#111111">4</text>
<text x="168.90" y="211.50" font-size="78.0" fill="#111111">5</text>
<text x="168.67" y="2261.50" font-size="78.0" fill="#111111">0</text>
<text x="169.43" y="2104.50" font-size="78.0" fill="#111111">1</text>
<text x="169.54" y="1947.50" font-size="78.0" fill="#111111">2</text>
<text x="169.05" y="1790.50" font-size="78.0" fill="#111111">3</text>
<text x="167.91" y="1633.50" font-size="78.0" fill="#111111">4</text>
<text x="168.90" y="1476.50" font-size="78.0" fill="#111111">5</text>
<text transform="translate(324.50,1054.00) scale(0.9839,1)" font-size="78.0" fill="#111111">0.06</text>
<text transform="translate(615.99,1054.00) scale(0.9873,1)" font-size="78.0" fill="#111111">0.12</text>
<text transform="translate(907.50,1054.00) scale(0.9837,1)" font-size="78.0" fill="#111111">0.18</text>
<text transform="translate(1299.70,1047.00) scale(0.9839,1)" font-size="78.0" fill="#111111">0.06</text>
<text transform="translate(1591.74,1047.00) scale(0.9873,1)" font-size="78.0" fill="#111111">0.12</text>
<text transform="translate(1883.80,1047.00) scale(0.9837,1)" font-size="78.0" fill="#111111">0.18</text>
<text transform="translate(2274.20,1050.00) scale(0.9839,1)" font-size="78.0" fill="#111111">0.06</text>
<text transform="translate(2565.59,1050.00) scale(0.9873,1)" font-size="78.0" fill="#111111">0.12</text>
<text transform="translate(2857.00,1050.00) scale(0.9837,1)" font-size="78.0" fill="#111111">0.18</text>
<text transform="translate(321.50,2316.00) scale(0.9839,1)" font-size="78.0" fill="#111111">0.06</text>
<text transform="translate(613.39,2316.00) scale(0.9873,1)" font-size="78.0" fill="#111111">0.12</text>
<text transform="translate(905.30,2316.00) scale(0.9837,1)" font-size="78.0" fill="#111111">0.18</text>
<text transform="translate(1297.20,2320.00) scale(0.9839,1)" font-size="78.0" fill="#111111">0.06</text>
<text transform="translate(1589.74,2320.00) scale(0.9873,1)" font-size="78.0" fill="#111111">0.12</text>
<text transform="translate(1882.30,2320.00) scale(0.9837,1)" font-size="78.0" fill="#111111">0.18</text>
<rect x="1280" y="2316.5" width="770" height="14" fill="#fff"/>
<text transform="translate(2286.20,2322.00) scale(0.9839,1)" font-size="78.0" fill="#111111">0.06</text>
<text transform="translate(2577.99,2322.00) scale(0.9873,1)" font-size="78.0" fill="#111111">0.12</text>
<text transform="translate(2869.80,2322.00) scale(0.9837,1)" font-size="78.0" fill="#111111">0.18</text>
<text transform="translate(260.49,72.68) scale(0.6797,0.6812)" font-size="100" fill="#111111">×</text>
<text transform="translate(299.81,72.44) scale(0.7342,0.7811)" font-size="100" fill="#111111">10</text>
<text transform="translate(379.28,42.38) scale(0.4880,0.5297)" font-size="100" fill="#111111">19</text>
<text transform="translate(1240.83,69.39) scale(0.6729,0.6722)" font-size="100" fill="#111111">×</text>
<text transform="translate(1280.11,68.01) scale(0.7342,0.7563)" font-size="100" fill="#111111">10</text>
<text transform="translate(1359.59,39.49) scale(0.4875,0.5226)" font-size="100" fill="#111111">19</text>
<text transform="translate(2218.68,71.13) scale(0.6662,0.6857)" font-size="100" fill="#111111">×</text>
<text transform="translate(2258.18,70.25) scale(0.7111,0.7641)" font-size="100" fill="#111111">10</text>
<text transform="translate(2336.79,39.29) scale(0.4865,0.5240)" font-size="100" fill="#111111">19</text>
<text transform="translate(264.29,1339.64) scale(0.6797,0.6588)" font-size="100" fill="#111111">×</text>
<text transform="translate(305.75,1338.96) scale(0.7161,0.7627)" font-size="100" fill="#111111">10</text>
<text transform="translate(383.39,1308.08) scale(0.4996,0.5311)" font-size="100" fill="#111111">19</text>
<text transform="translate(1240.40,1341.88) scale(0.6774,0.6991)" font-size="100" fill="#111111">×</text>
<text transform="translate(1281.88,1340.75) scale(0.6980,0.7698)" font-size="100" fill="#111111">10</text>
<text transform="translate(1357.95,1309.88) scale(0.5188,0.5311)" font-size="100" fill="#111111">19</text>
<text transform="translate(2229.98,1343.31) scale(0.6662,0.6834)" font-size="100" fill="#111111">×</text>
<text transform="translate(2272.21,1343.24) scale(0.6940,0.7797)" font-size="100" fill="#111111">10</text>
<text transform="translate(2348.63,1312.17) scale(0.5077,0.5466)" font-size="100" fill="#111111">19</text>
<rect x="569.0" y="140.6" width="14.0" height="88.1" fill="#111111"/>
<rect x="278.5" y="214.7" width="304.5" height="14.0" fill="#111111"/>
<rect x="267.0" y="131.1" width="301.5" height="83.1" fill="#fff" stroke="#262626" stroke-width="5"/>
<text transform="translate(273.09,193.00) scale(1.0195,1)" font-size="61.0" fill="#111111" stroke="#111" stroke-width="0.8">w/o Pass.</text>
<rect x="1525.7" y="118.6" width="14.0" height="87.1" fill="#111111"/>
<rect x="1255.0" y="191.7" width="284.7" height="14.0" fill="#111111"/>
<rect x="1243.5" y="109.1" width="281.7" height="82.1" fill="#fff" stroke="#262626" stroke-width="5"/>
<text transform="translate(1250.09,173.00) scale(1.0129,1)" font-size="61.0" fill="#111111" stroke="#111" stroke-width="0.8">w/o Pass.</text>
<rect x="2520.0" y="136.2" width="13.0" height="87.9" fill="#111111"/>
<rect x="2230.4" y="211.1" width="302.6" height="13.0" fill="#111111"/>
<rect x="2219.9" y="127.7" width="299.6" height="82.9" fill="#fff" stroke="#262626" stroke-width="5"/>
<text transform="translate(2226.09,191.10) scale(1.0021,1)" font-size="61.0" fill="#111111" stroke="#111" stroke-width="0.8">w/o Pass.</text>
<rect x="565.6" y="1405.0" width="14.0" height="89.4" fill="#111111"/>
<rect x="278.5" y="1480.4" width="301.1" height="14.0" fill="#111111"/>
<rect x="267.0" y="1395.5" width="298.1" height="84.4" fill="#fff" stroke="#262626" stroke-width="5"/>
<text transform="translate(272.64,1458.60) scale(0.9791,1)" font-size="61.0" fill="#111111" stroke="#111" stroke-width="0.8">With Pass.</text>
<rect x="1542.2" y="1390.3" width="13.0" height="86.7" fill="#111111"/>
<rect x="1252.0" y="1464.0" width="303.2" height="13.0" fill="#111111"/>
<rect x="1241.5" y="1381.8" width="300.2" height="81.7" fill="#fff" stroke="#262626" stroke-width="5"/>
<text transform="translate(1248.74,1443.00) scale(0.9732,1)" font-size="61.0" fill="#111111" stroke="#111" stroke-width="0.8">With Pass.</text>
<rect x="2529.7" y="1408.3" width="13.0" height="88.4" fill="#111111"/>
<rect x="2240.0" y="1483.7" width="302.7" height="13.0" fill="#111111"/>
<rect x="2229.5" y="1399.8" width="299.7" height="83.4" fill="#fff" stroke="#262626" stroke-width="5"/>
<text transform="translate(2236.74,1463.00) scale(0.9760,1)" font-size="61.0" fill="#111111" stroke="#111" stroke-width="0.8">With Pass.</text>
<circle cx="318.0" cy="285.7" r="12" fill="#fff" stroke="#ec1c24" stroke-width="5.5"/>
<text transform="translate(382.09,298.80) scale(1.0465,1)" font-size="61.0" fill="#111111" stroke="#111" stroke-width="0.9">after stress</text>
<line x1="270.0" y1="364.3" x2="366.2" y2="364.3" stroke="#ec1c24" stroke-width="11" stroke-linecap="round"/>
<text transform="translate(381.13,377.40) scale(1.1922,1)" font-size="61.0" fill="#111111" stroke="#111" stroke-width="0.9">initial</text>
<circle cx="1297.3" cy="280.7" r="12" fill="#fff" stroke="#ec1c24" stroke-width="5.5"/>
<text transform="translate(1362.29,294.80) scale(1.0441,1)" font-size="61.0" fill="#111111" stroke="#111" stroke-width="0.9">after stress</text>
<line x1="1249.0" y1="360.0" x2="1344.3" y2="360.0" stroke="#ec1c24" stroke-width="11" stroke-linecap="round"/>
<text transform="translate(1362.91,372.90) scale(1.1739,1)" font-size="61.0" fill="#111111" stroke="#111" stroke-width="0.9">initial</text>
<circle cx="2303.0" cy="397.7" r="12" fill="#fff" stroke="#ec1c24" stroke-width="5.5"/>
<text transform="translate(2368.50,413.00) scale(1.0435,1)" font-size="61.0" fill="#111111" stroke="#111" stroke-width="0.9">after stress</text>
<line x1="2255.8" y1="476.8" x2="2350.3" y2="476.8" stroke="#ec1c24" stroke-width="11" stroke-linecap="round"/>
<text transform="translate(2368.53,492.20) scale(1.1930,1)" font-size="61.0" fill="#111111" stroke="#111" stroke-width="0.9">initial</text>
<circle cx="311.7" cy="1558.6" r="12" fill="#fff" stroke="#ec1c24" stroke-width="5.5"/>
<text transform="translate(374.89,1570.50) scale(1.0465,1)" font-size="61.0" fill="#111111" stroke="#111" stroke-width="0.9">after stress</text>
<line x1="264.1" y1="1637.0" x2="357.8" y2="1637.0" stroke="#ec1c24" stroke-width="11" stroke-linecap="round"/>
<text transform="translate(375.10,1652.60) scale(1.1999,1)" font-size="61.0" fill="#111111" stroke="#111" stroke-width="0.9">initial</text>
<circle cx="1298.0" cy="1557.7" r="12" fill="#fff" stroke="#ec1c24" stroke-width="5.5"/>
<text transform="translate(1364.09,1570.80) scale(1.0472,1)" font-size="61.0" fill="#111111" stroke="#111" stroke-width="0.9">after stress</text>
<line x1="1251.1" y1="1636.2" x2="1344.9" y2="1636.2" stroke="#ec1c24" stroke-width="11" stroke-linecap="round"/>
<text transform="translate(1363.60,1649.30) scale(1.1754,1)" font-size="61.0" fill="#111111" stroke="#111" stroke-width="0.9">initial</text>
<circle cx="2314.0" cy="1669.3" r="12" fill="#fff" stroke="#ec1c24" stroke-width="5.5"/>
<text transform="translate(2381.71,1685.20) scale(1.0381,1)" font-size="61.0" fill="#111111" stroke="#111" stroke-width="0.9">after stress</text>
<line x1="2269.8" y1="1748.6" x2="2360.8" y2="1748.6" stroke="#ec1c24" stroke-width="11" stroke-linecap="round"/>
<text transform="translate(2379.59,1764.50) scale(1.1777,1)" font-size="61.0" fill="#111111" stroke="#111" stroke-width="0.9">initial</text>
<text transform="translate(282.28,490.63) scale(0.7903,0.7301)" font-size="100" font-weight="bold" font-style="italic" fill="#111111">t</text>
<text transform="translate(311.68,510.28) scale(0.4925,0.5365)" font-size="100" font-weight="bold" fill="#111111">ch</text>
<text transform="translate(369.70,492.10) scale(0.6957,0.7385)" font-size="100" fill="#111111">=</text>
<text transform="translate(410.35,491.60) scale(0.7864,0.7864)" font-size="100" font-weight="bold" fill="#ec1c24">4</text>
<text transform="translate(473.87,491.00) scale(0.7179,0.7241)" font-size="100" font-weight="bold" fill="#111111">nm</text>
<text transform="translate(1261.98,485.43) scale(0.7903,0.7301)" font-size="100" font-weight="bold" font-style="italic" fill="#111111">t</text>
<text transform="translate(1291.38,505.08) scale(0.4925,0.5365)" font-size="100" font-weight="bold" fill="#111111">ch</text>
<text transform="translate(1349.40,486.90) scale(0.6957,0.7385)" font-size="100" fill="#111111">=</text>
<text transform="translate(1390.63,485.64) scale(0.7753,0.7753)" font-size="100" font-weight="bold" fill="#ec1c24">5</text>
<text transform="translate(1453.57,485.80) scale(0.7179,0.7241)" font-size="100" font-weight="bold" fill="#111111">nm</text>
<text transform="translate(2262.38,607.43) scale(0.7903,0.7301)" font-size="100" font-weight="bold" font-style="italic" fill="#111111">t</text>
<text transform="translate(2291.78,627.08) scale(0.4925,0.5365)" font-size="100" font-weight="bold" fill="#111111">ch</text>
<text transform="translate(2349.80,608.90) scale(0.6957,0.7385)" font-size="100" fill="#111111">=</text>
<text transform="translate(2391.43,607.65) scale(0.7641,0.7641)" font-size="100" font-weight="bold" fill="#ec1c24">6</text>
<text transform="translate(2453.97,607.80) scale(0.7179,0.7241)" font-size="100" font-weight="bold" fill="#111111">nm</text>
<text transform="translate(275.48,1763.23) scale(0.7903,0.7301)" font-size="100" font-weight="bold" font-style="italic" fill="#111111">t</text>
<text transform="translate(304.88,1782.88) scale(0.4925,0.5365)" font-size="100" font-weight="bold" fill="#111111">ch</text>
<text transform="translate(362.90,1764.70) scale(0.6957,0.7385)" font-size="100" fill="#111111">=</text>
<text transform="translate(403.55,1764.20) scale(0.7864,0.7864)" font-size="100" font-weight="bold" fill="#ec1c24">4</text>
<text transform="translate(467.07,1763.60) scale(0.7179,0.7241)" font-size="100" font-weight="bold" fill="#111111">nm</text>
<text transform="translate(1281.68,1758.93) scale(0.7903,0.7301)" font-size="100" font-weight="bold" font-style="italic" fill="#111111">t</text>
<text transform="translate(1311.08,1778.58) scale(0.4925,0.5365)" font-size="100" font-weight="bold" fill="#111111">ch</text>
<text transform="translate(1369.10,1760.40) scale(0.6957,0.7385)" font-size="100" fill="#111111">=</text>
<text transform="translate(1410.33,1759.14) scale(0.7753,0.7753)" font-size="100" font-weight="bold" fill="#ec1c24">5</text>
<text transform="translate(1473.27,1759.30) scale(0.7179,0.7241)" font-size="100" font-weight="bold" fill="#111111">nm</text>
<text transform="translate(2274.58,1879.93) scale(0.7903,0.7301)" font-size="100" font-weight="bold" font-style="italic" fill="#111111">t</text>
<text transform="translate(2303.98,1899.58) scale(0.4925,0.5365)" font-size="100" font-weight="bold" fill="#111111">ch</text>
<text transform="translate(2362.00,1881.40) scale(0.6957,0.7385)" font-size="100" fill="#111111">=</text>
<text transform="translate(2403.63,1880.15) scale(0.7641,0.7641)" font-size="100" font-weight="bold" fill="#ec1c24">6</text>
<text transform="translate(2466.17,1880.30) scale(0.7179,0.7241)" font-size="100" font-weight="bold" fill="#111111">nm</text>
<text transform="translate(269.73,919.00) scale(0.6629,0.6832)" font-size="100" fill="#222">Δ</text>
<text transform="translate(314.44,920.00) scale(0.6359,0.7733)" font-size="100" font-style="italic" fill="#111111">N</text>
<text transform="translate(360.32,938.41) scale(0.5159,0.4719)" font-size="100" fill="#222">trap-max</text>
<text transform="translate(563.69,916.61) scale(0.6360,0.5958)" font-size="100" fill="#111111">=</text>
<text transform="translate(601.17,919.77) scale(0.7650,0.7486)" font-size="100" fill="#ec1c24">6</text>
<text transform="translate(641.49,926.25) scale(0.7223,0.7237)" font-size="100" fill="#111111">×</text>
<text transform="translate(682.41,920.25) scale(0.6950,0.7655)" font-size="100" fill="#111111">10</text>
<text transform="translate(756.70,890.97) scale(0.4987,0.5438)" font-size="100" fill="#111111">18</text>
<text transform="translate(830.44,919.70) scale(0.7430,0.8212)" font-size="100" fill="#111111">eV</text>
<text transform="translate(922.88,888.00) scale(0.4299,0.5465)" font-size="100" fill="#111111">−1</text>
<circle cx="989.5" cy="897.0" r="6.3" fill="#111111"/>
<text transform="translate(1000.97,919.72) scale(0.7847,0.7958)" font-size="100" fill="#111111">cm</text>
<text transform="translate(1107.00,887.48) scale(0.4661,0.5311)" font-size="100" fill="#111111">−3</text>
<text transform="translate(1244.53,927.00) scale(0.6629,0.6832)" font-size="100" fill="#222">Δ</text>
<text transform="translate(1289.24,928.00) scale(0.6359,0.7733)" font-size="100" font-style="italic" fill="#111111">N</text>
<text transform="translate(1335.12,946.41) scale(0.5159,0.4719)" font-size="100" fill="#222">trap-max</text>
<text transform="translate(1538.49,924.61) scale(0.6360,0.5958)" font-size="100" fill="#111111">=</text>
<text transform="translate(1576.47,928.50) scale(0.7650,0.7704)" font-size="100" fill="#ec1c24">4</text>
<text transform="translate(1616.29,934.25) scale(0.7223,0.7237)" font-size="100" fill="#111111">×</text>
<text transform="translate(1657.21,928.25) scale(0.6950,0.7655)" font-size="100" fill="#111111">10</text>
<text transform="translate(1731.50,898.97) scale(0.4987,0.5438)" font-size="100" fill="#111111">18</text>
<text transform="translate(1805.24,927.70) scale(0.7430,0.8212)" font-size="100" fill="#111111">eV</text>
<text transform="translate(1897.68,896.00) scale(0.4299,0.5465)" font-size="100" fill="#111111">−1</text>
<circle cx="1964.3" cy="905.0" r="6.3" fill="#111111"/>
<text transform="translate(1975.77,927.72) scale(0.7847,0.7958)" font-size="100" fill="#111111">cm</text>
<text transform="translate(2081.80,895.48) scale(0.4661,0.5311)" font-size="100" fill="#111111">−3</text>
<text transform="translate(2222.03,299.10) scale(0.6629,0.6832)" font-size="100" fill="#222">Δ</text>
<text transform="translate(2262.24,300.10) scale(0.7877,0.7733)" font-size="100" fill="#111111">N</text>
<text transform="translate(2312.62,318.51) scale(0.5159,0.4719)" font-size="100" fill="#222">trap-max</text>
<text transform="translate(2515.99,296.71) scale(0.6360,0.5958)" font-size="100" fill="#111111">=</text>
<text transform="translate(2553.93,300.60) scale(0.7650,0.7590)" font-size="100" font-weight="bold" fill="#ec1c24">2</text>
<text transform="translate(2593.79,306.35) scale(0.7223,0.7237)" font-size="100" fill="#111111">×</text>
<text transform="translate(2634.71,300.35) scale(0.6950,0.7655)" font-size="100" fill="#111111">10</text>
<text transform="translate(2709.00,271.07) scale(0.4987,0.5438)" font-size="100" fill="#111111">18</text>
<text transform="translate(2782.74,299.80) scale(0.7430,0.8212)" font-size="100" fill="#111111">eV</text>
<text transform="translate(2875.18,268.10) scale(0.4299,0.5465)" font-size="100" fill="#111111">−1</text>
<circle cx="2941.8" cy="277.1" r="6.3" fill="#111111"/>
<text transform="translate(2953.27,299.82) scale(0.7847,0.7958)" font-size="100" fill="#111111">cm</text>
<text transform="translate(3059.30,267.58) scale(0.4661,0.5311)" font-size="100" fill="#111111">−3</text>
<text transform="translate(269.03,2180.30) scale(0.6629,0.6832)" font-size="100" fill="#222">Δ</text>
<text transform="translate(313.74,2181.30) scale(0.6359,0.7733)" font-size="100" font-style="italic" fill="#111111">N</text>
<text transform="translate(359.62,2199.71) scale(0.5159,0.4719)" font-size="100" fill="#222">trap-max</text>
<text transform="translate(562.99,2177.91) scale(0.6360,0.5958)" font-size="100" fill="#111111">=</text>
<text transform="translate(600.97,2181.80) scale(0.7650,0.7704)" font-size="100" fill="#ec1c24">4</text>
<text transform="translate(640.79,2187.55) scale(0.7223,0.7237)" font-size="100" fill="#111111">×</text>
<text transform="translate(681.71,2181.55) scale(0.6950,0.7655)" font-size="100" fill="#111111">10</text>
<text transform="translate(756.00,2152.27) scale(0.4987,0.5438)" font-size="100" fill="#111111">18</text>
<text transform="translate(829.74,2181.00) scale(0.7430,0.8212)" font-size="100" fill="#111111">eV</text>
<text transform="translate(922.18,2149.30) scale(0.4299,0.5465)" font-size="100" fill="#111111">−1</text>
<circle cx="988.8" cy="2158.3" r="6.3" fill="#111111"/>
<text transform="translate(1000.27,2181.02) scale(0.7847,0.7958)" font-size="100" fill="#111111">cm</text>
<text transform="translate(1106.30,2148.78) scale(0.4661,0.5311)" font-size="100" fill="#111111">−3</text>
<text transform="translate(1243.03,2199.00) scale(0.6629,0.6832)" font-size="100" fill="#222">Δ</text>
<text transform="translate(1287.74,2200.00) scale(0.6359,0.7733)" font-size="100" font-style="italic" fill="#111111">N</text>
<text transform="translate(1333.62,2218.41) scale(0.5159,0.4719)" font-size="100" fill="#222">trap-max</text>
<text transform="translate(1536.99,2196.61) scale(0.6360,0.5958)" font-size="100" fill="#111111">=</text>
<text transform="translate(1574.73,2200.50) scale(0.7650,0.7590)" font-size="100" fill="#ec1c24">2</text>
<text transform="translate(1614.79,2206.25) scale(0.7223,0.7237)" font-size="100" fill="#111111">×</text>
<text transform="translate(1655.71,2200.25) scale(0.6950,0.7655)" font-size="100" fill="#111111">10</text>
<text transform="translate(1730.00,2170.97) scale(0.4987,0.5438)" font-size="100" fill="#111111">18</text>
<text transform="translate(1803.74,2199.70) scale(0.7430,0.8212)" font-size="100" fill="#111111">eV</text>
<text transform="translate(1896.18,2168.00) scale(0.4299,0.5465)" font-size="100" fill="#111111">−1</text>
<circle cx="1962.8" cy="2177.0" r="6.3" fill="#111111"/>
<text transform="translate(1974.27,2199.72) scale(0.7847,0.7958)" font-size="100" fill="#111111">cm</text>
<text transform="translate(2080.30,2167.48) scale(0.4661,0.5311)" font-size="100" fill="#111111">−3</text>
<text transform="translate(2223.73,1568.60) scale(0.6629,0.6832)" font-size="100" fill="#222">Δ</text>
<text transform="translate(2263.94,1569.60) scale(0.7877,0.7733)" font-size="100" fill="#111111">N</text>
<text transform="translate(2314.32,1588.01) scale(0.5159,0.4719)" font-size="100" fill="#222">trap-max</text>
<text transform="translate(2517.69,1566.21) scale(0.6360,0.5958)" font-size="100" fill="#111111">=</text>
<text transform="translate(2563.36,1570.10) scale(0.4513,0.7704)" font-size="100" font-weight="bold" fill="#ec1c24">1</text>
<text transform="translate(2595.49,1575.85) scale(0.7223,0.7237)" font-size="100" fill="#111111">×</text>
<text transform="translate(2636.41,1569.85) scale(0.6950,0.7655)" font-size="100" fill="#111111">10</text>
<text transform="translate(2710.70,1540.57) scale(0.4987,0.5438)" font-size="100" fill="#111111">18</text>
<text transform="translate(2784.44,1569.30) scale(0.7430,0.8212)" font-size="100" fill="#111111">eV</text>
<text transform="translate(2876.88,1537.60) scale(0.4299,0.5465)" font-size="100" fill="#111111">−1</text>
<circle cx="2943.5" cy="1546.6" r="6.3" fill="#111111"/>
<text transform="translate(2954.97,1569.32) scale(0.7847,0.7958)" font-size="100" fill="#111111">cm</text>
<text transform="translate(3061.00,1537.08) scale(0.4661,0.5311)" font-size="100" fill="#111111">−3</text>
<text transform="translate(877.20,191.57) scale(0.7834,0.7443)" font-size="100" fill="#111111">4.8</text>
<text transform="translate(799.69,464.00) scale(0.7457,0.7447)" font-size="100" fill="#111111">4.2</text>
<text transform="translate(1921.43,440.68) scale(0.6737,0.7359)" font-size="100" fill="#111111">3.1</text>
<text transform="translate(1845.65,639.30) scale(0.7848,0.7447)" font-size="100" fill="#111111">2.7</text>
<text transform="translate(2899.23,629.80) scale(0.7503,0.7161)" font-size="100" fill="#111111">2.0</text>
<text transform="translate(2849.06,779.32) scale(0.7399,0.6977)" font-size="100" fill="#111111">1.8</text>
<text transform="translate(874.97,1489.29) scale(0.7557,0.7302)" font-size="100" fill="#111111">4.6</text>
<text transform="translate(769.99,1703.30) scale(0.7465,0.7161)" font-size="100" fill="#111111">4.2</text>
<text transform="translate(1787.85,1728.91) scale(0.7487,0.7062)" font-size="100" fill="#111111">3.0</text>
<text transform="translate(1772.59,1895.01) scale(0.7575,0.7062)" font-size="100" fill="#111111">2.8</text>
<text transform="translate(2730.73,1916.58) scale(0.7572,0.7359)" font-size="100" fill="#111111">1.8</text>
<text transform="translate(2698.07,2063.20) scale(0.7518,0.7398)" font-size="100" fill="#111111">1.7</text>
<text transform="translate(1219.33,1138.50) scale(0.9765,1)" font-size="77.0" fill="#111111">Energy from Flat Band (eV)</text>
<text transform="translate(1221.63,2406.30) scale(0.9763,1)" font-size="77.0" fill="#111111">Energy from Flat Band (eV)</text>
<g transform="rotate(-90)">
<text transform="translate(-868.00,107.00) scale(0.8764,1)" font-size="78.0" font-style="italic" fill="#111111">N</text>
<text transform="translate(-814.87,128.00) scale(0.8519,1)" font-size="52.0" fill="#111111">trap</text>
<text transform="translate(-720.09,107.00) scale(0.8462,1)" font-size="78.0" fill="#111111">(</text>
<text transform="translate(-696.10,107.00) scale(0.8739,1)" font-size="78.0" font-style="italic" fill="#111111">E</text>
<text transform="translate(-648.12,107.00) scale(0.6915,1)" font-size="78.0" fill="#111111">)</text>
<text transform="translate(-605.01,107.00) scale(1.0348,1)" font-size="78.0" fill="#111111">(</text>
<text transform="translate(-574.66,107.00) scale(0.9853,1)" font-size="78.0" fill="#111111">eV</text>
<text transform="translate(-479.94,73.00) scale(1.1183,1)" font-size="46.0" fill="#111111">−1</text>
<text transform="translate(-421.45,105.00) scale(0.8843,1)" font-size="78.0" font-weight="bold" fill="#111111">·</text>
<text transform="translate(-400.90,107.00) scale(0.9967,1)" font-size="78.0" fill="#111111">cm</text>
<text transform="translate(-290.18,73.00) scale(0.9615,1)" font-size="46.0" fill="#111111">−3</text>
<text transform="translate(-231.37,107.00) scale(0.8075,1)" font-size="78.0" fill="#111111">)</text>
</g>
<g transform="rotate(-90)">
<text transform="translate(-2137.00,106.50) scale(0.8764,1)" font-size="78.0" font-style="italic" fill="#111111">N</text>
<text transform="translate(-2083.87,127.50) scale(0.8519,1)" font-size="52.0" fill="#111111">trap</text>
<text transform="translate(-1989.09,106.50) scale(0.8462,1)" font-size="78.0" fill="#111111">(</text>
<text transform="translate(-1965.10,106.50) scale(0.8739,1)" font-size="78.0" font-style="italic" fill="#111111">E</text>
<text transform="translate(-1917.12,106.50) scale(0.6915,1)" font-size="78.0" fill="#111111">)</text>
<text transform="translate(-1874.01,106.50) scale(1.0348,1)" font-size="78.0" fill="#111111">(</text>
<text transform="translate(-1843.66,106.50) scale(0.9853,1)" font-size="78.0" fill="#111111">eV</text>
<text transform="translate(-1748.94,72.50) scale(1.1183,1)" font-size="46.0" fill="#111111">−1</text>
<text transform="translate(-1690.45,104.50) scale(0.8843,1)" font-size="78.0" font-weight="bold" fill="#111111">·</text>
<text transform="translate(-1669.90,106.50) scale(0.9967,1)" font-size="78.0" fill="#111111">cm</text>
<text transform="translate(-1559.18,72.50) scale(0.9615,1)" font-size="46.0" fill="#111111">−3</text>
<text transform="translate(-1500.37,106.50) scale(0.8075,1)" font-size="78.0" fill="#111111">)</text>
</g>
<text transform="translate(-5.26,1077.84) scale(1.1390,1.4566)" font-size="100" fill="#111111" stroke="#111" stroke-width="2">(</text>
<text transform="translate(39.96,1077.20) scale(1.3043,1.4347)" font-size="100" fill="#111111" stroke="#111" stroke-width="2">a</text>
<text transform="translate(130.32,1077.84) scale(1.1541,1.4566)" font-size="100" fill="#111111" stroke="#111" stroke-width="2">)</text>
<text transform="translate(-6.74,2355.10) scale(1.0862,1.4780)" font-size="100" fill="#111111" stroke="#111" stroke-width="2">(</text>
<text transform="translate(38.54,2354.06) scale(1.4676,1.4774)" font-size="100" fill="#111111" stroke="#111" stroke-width="2">b</text>
<text transform="translate(132.33,2355.10) scale(1.1503,1.4780)" font-size="100" fill="#111111" stroke="#111" stroke-width="2">)</text>
</svg>
</body></html>
